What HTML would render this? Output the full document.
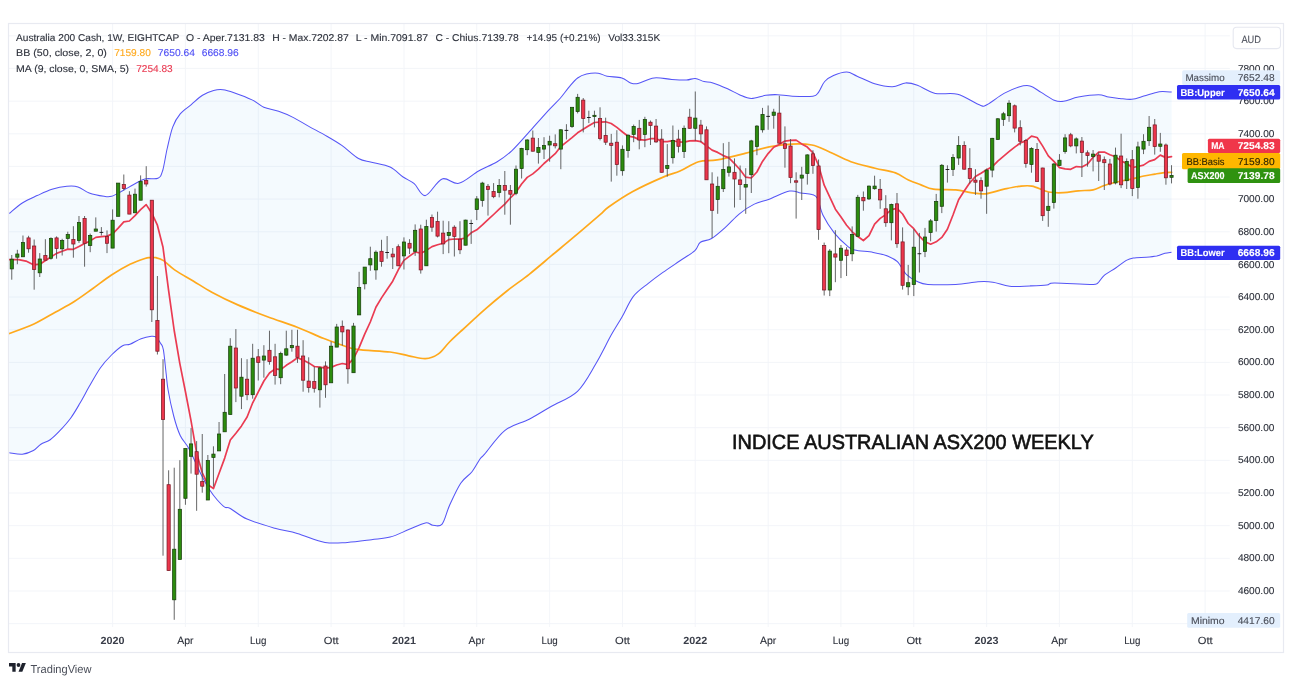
<!DOCTYPE html>
<html lang="it"><head><meta charset="utf-8"><title>Australia 200 Cash - TradingView</title>
<style>
html,body{margin:0;padding:0;background:#fff;}
body{width:1292px;height:684px;overflow:hidden;font-family:"Liberation Sans", sans-serif;}
svg{display:block;position:absolute;left:0;top:0;}
text{font-family:"Liberation Sans", sans-serif;font-size:9.9px;color:#2e323c;fill:currentColor;stroke:currentColor;stroke-width:0.12px;text-rendering:geometricPrecision;}
.b{font-weight:bold;}
.w{color:#fff;}
</style></head><body>
<svg width="1292" height="684" viewBox="0 0 1292 684">
<rect x="0" y="0" width="1292" height="684" fill="#fff"/>

<g stroke="#f2f4f8" stroke-width="0.9">
<line x1="9" y1="623.63" x2="1229.8" y2="623.63"/>
<line x1="9" y1="590.97" x2="1229.8" y2="590.97"/>
<line x1="9" y1="558.32" x2="1229.8" y2="558.32"/>
<line x1="9" y1="525.66" x2="1229.8" y2="525.66"/>
<line x1="9" y1="493.00" x2="1229.8" y2="493.00"/>
<line x1="9" y1="460.35" x2="1229.8" y2="460.35"/>
<line x1="9" y1="427.69" x2="1229.8" y2="427.69"/>
<line x1="9" y1="395.04" x2="1229.8" y2="395.04"/>
<line x1="9" y1="362.38" x2="1229.8" y2="362.38"/>
<line x1="9" y1="329.72" x2="1229.8" y2="329.72"/>
<line x1="9" y1="297.07" x2="1229.8" y2="297.07"/>
<line x1="9" y1="264.41" x2="1229.8" y2="264.41"/>
<line x1="9" y1="231.76" x2="1229.8" y2="231.76"/>
<line x1="9" y1="199.10" x2="1229.8" y2="199.10"/>
<line x1="9" y1="166.44" x2="1229.8" y2="166.44"/>
<line x1="9" y1="133.79" x2="1229.8" y2="133.79"/>
<line x1="9" y1="101.13" x2="1229.8" y2="101.13"/>
<line x1="9" y1="68.48" x2="1229.8" y2="68.48"/>
<line x1="9" y1="35.82" x2="1229.8" y2="35.82"/>
<line x1="112.60" y1="24" x2="112.60" y2="627"/>
<line x1="185.44" y1="24" x2="185.44" y2="627"/>
<line x1="258.27" y1="24" x2="258.27" y2="627"/>
<line x1="331.11" y1="24" x2="331.11" y2="627"/>
<line x1="403.95" y1="24" x2="403.95" y2="627"/>
<line x1="476.78" y1="24" x2="476.78" y2="627"/>
<line x1="549.62" y1="24" x2="549.62" y2="627"/>
<line x1="622.46" y1="24" x2="622.46" y2="627"/>
<line x1="695.29" y1="24" x2="695.29" y2="627"/>
<line x1="768.13" y1="24" x2="768.13" y2="627"/>
<line x1="840.96" y1="24" x2="840.96" y2="627"/>
<line x1="913.80" y1="24" x2="913.80" y2="627"/>
<line x1="986.64" y1="24" x2="986.64" y2="627"/>
<line x1="1059.47" y1="24" x2="1059.47" y2="627"/>
<line x1="1132.31" y1="24" x2="1132.31" y2="627"/>
<line x1="1205.15" y1="24" x2="1205.15" y2="627"/>
</g>
<path d="M9.3,213.5C11.5,211.8 17.6,206.0 22.3,203.0C27.0,200.0 32.2,197.9 37.2,195.6C42.2,193.3 47.0,190.9 52.0,189.3C57.0,187.8 62.6,186.7 66.9,186.3C71.2,185.9 74.3,185.8 78.0,186.9C81.7,188.0 84.9,191.4 89.2,193.0C93.5,194.6 100.3,195.8 104.0,196.3C107.7,196.9 108.4,197.2 111.5,196.3C114.6,195.4 118.9,192.8 122.6,190.8C126.3,188.8 130.0,186.5 133.7,184.5C137.4,182.5 140.9,179.9 144.9,178.9C148.9,177.9 154.9,179.7 157.9,178.3C160.9,176.9 161.1,175.5 162.7,170.5C164.2,165.5 165.5,155.8 167.2,148.5C168.9,141.2 170.6,132.7 172.8,126.9C175.0,121.1 177.1,117.6 180.2,113.9C183.3,110.2 187.6,107.7 191.3,104.6C195.0,101.5 198.8,97.6 202.5,95.3C206.2,93.0 210.2,91.4 213.6,90.5C217.0,89.6 219.5,89.3 222.9,89.7C226.3,90.1 229.1,91.0 234.0,92.7C238.9,94.4 247.6,97.7 252.6,100.1C257.6,102.5 259.5,105.3 263.8,107.2C268.1,109.1 273.7,109.6 278.6,111.3C283.6,113.0 288.5,115.1 293.5,117.6C298.5,120.1 302.8,123.0 308.4,126.1C314.0,129.2 321.3,133.0 326.9,136.2C332.5,139.4 336.5,141.7 341.8,145.4C347.1,149.1 353.6,155.7 358.5,158.5C363.4,161.3 366.2,160.8 371.5,162.2C376.8,163.6 384.8,164.5 390.1,167.0C395.4,169.5 399.1,174.2 403.1,177.0C407.1,179.8 410.5,180.6 414.2,183.7C417.9,186.8 420.8,196.4 425.4,195.6C430.0,194.8 436.5,180.9 442.1,178.9C447.7,176.9 452.7,184.6 458.8,183.3C464.9,182.0 472.2,174.6 478.6,171.0C485.0,167.4 491.6,165.1 497.2,161.7C502.8,158.3 506.1,156.2 512.0,150.6C517.9,145.0 526.2,135.1 532.4,128.3C538.6,121.5 544.6,114.7 549.2,109.7C553.8,104.7 556.7,102.2 560.0,98.5C563.3,94.8 565.9,90.8 568.8,87.4C571.7,84.0 574.6,80.2 577.6,78.0C580.6,75.8 583.1,74.9 586.5,74.1C589.9,73.3 594.8,72.8 598.2,73.2C601.6,73.6 603.2,75.4 607.1,76.2C611.0,77.0 617.9,76.8 621.8,77.9C625.7,79.0 627.9,82.0 630.6,82.9C633.3,83.8 634.0,84.3 637.9,83.5C641.8,82.7 648.5,78.6 654.1,77.9C659.8,77.2 666.4,79.1 671.8,79.4C677.2,79.8 682.6,80.2 686.5,80.0C690.4,79.8 692.4,78.2 695.3,78.5C698.2,78.8 701.2,80.8 704.1,81.5C707.0,82.2 709.0,81.7 712.9,82.9C716.8,84.1 723.2,86.8 727.6,88.8C732.0,90.8 735.5,93.1 739.4,94.7C743.3,96.3 746.8,98.4 751.2,98.5C755.6,98.6 761.5,95.9 765.9,95.3C770.3,94.7 773.2,94.5 777.6,94.7C782.0,94.9 786.5,96.0 792.4,96.2C798.3,96.5 808.5,96.9 812.9,96.2C817.3,95.5 816.8,94.2 818.8,91.8C820.8,89.3 822.2,84.2 824.7,81.5C827.2,78.8 829.8,77.2 833.5,75.6C837.2,74.0 842.9,72.0 846.8,72.1C850.7,72.2 852.5,74.2 857.1,76.2C861.8,78.2 868.8,82.0 874.7,83.8C880.6,85.6 887.2,86.9 892.4,86.8C897.5,86.7 901.4,83.2 905.6,82.9C909.8,82.7 912.5,83.5 917.4,85.3C922.3,87.0 928.6,91.9 935.3,93.4C942.0,94.9 950.2,92.3 957.6,94.3C965.0,96.2 975.0,103.4 979.9,105.1C984.8,106.8 983.3,106.5 987.3,104.5C991.3,102.5 998.7,96.3 1004.0,93.4C1009.3,90.5 1014.6,88.2 1018.9,86.9C1023.2,85.7 1026.3,85.0 1030.0,85.9C1033.7,86.8 1037.2,90.0 1041.2,92.4C1045.2,94.8 1050.5,98.7 1054.2,100.2C1057.9,101.7 1059.5,101.8 1063.5,101.3C1067.5,100.8 1072.5,98.2 1078.3,97.1C1084.1,96.0 1093.4,94.7 1098.4,94.7C1103.5,94.7 1105.0,96.5 1108.6,97.1C1112.1,97.7 1115.8,98.0 1119.7,98.4C1123.6,98.8 1127.8,99.7 1131.8,99.3C1135.8,98.9 1139.9,97.2 1143.8,96.1C1147.7,95.0 1151.9,93.6 1155.0,92.8C1158.1,92.0 1159.6,91.6 1162.4,91.5C1165.2,91.4 1170.2,92.0 1171.7,92.1L1171.5,252.2C1170.4,252.4 1167.4,252.7 1164.9,253.3C1162.4,253.9 1159.8,255.3 1156.7,256.0C1153.6,256.6 1150.1,256.9 1146.2,257.2C1142.3,257.5 1136.6,257.5 1133.3,258.0C1130.0,258.5 1129.2,258.7 1126.3,260.4C1123.4,262.1 1119.4,265.5 1115.7,268.0C1112.0,270.5 1107.0,273.1 1104.0,275.6C1101.0,278.1 1099.9,281.7 1097.6,283.2C1095.3,284.7 1097.2,284.4 1090.0,284.4C1082.8,284.4 1061.4,283.0 1054.2,283.1C1047.0,283.2 1050.8,284.5 1046.8,285.0C1042.8,285.5 1036.2,285.7 1030.0,285.9C1023.8,286.1 1015.8,286.9 1009.6,286.3C1003.4,285.7 998.2,282.9 992.9,282.2C987.6,281.4 984.2,281.4 978.0,281.8C971.8,282.2 964.1,284.0 955.7,284.4C947.4,284.8 934.4,284.9 927.9,284.4C921.4,283.9 920.2,282.8 916.7,281.2C913.2,279.6 909.8,277.9 906.6,274.7C903.4,271.4 900.5,264.8 897.4,261.7C894.3,258.6 892.1,257.8 888.1,256.2C884.1,254.6 878.8,253.4 873.2,252.4C867.6,251.4 858.9,251.1 854.6,250.0C850.3,248.9 850.6,248.8 847.2,245.9C843.8,243.1 838.2,238.0 834.2,232.9C830.2,227.8 825.8,221.0 823.0,215.3C820.2,209.6 819.4,202.1 817.5,198.6C815.6,195.1 814.7,195.4 811.9,194.5C809.1,193.6 804.5,193.6 800.8,193.0C797.1,192.4 794.9,190.1 789.6,191.1C784.3,192.1 775.1,197.0 769.2,199.2C763.3,201.4 759.3,201.7 754.3,204.1C749.3,206.5 744.0,210.1 739.4,213.8C734.8,217.5 731.0,222.3 726.4,226.4C721.8,230.5 715.9,235.9 711.6,238.5C707.3,241.1 703.2,240.2 700.4,242.2C697.6,244.2 698.3,247.5 694.9,250.6C691.5,253.7 685.3,257.2 680.0,260.8C674.7,264.4 668.2,268.6 662.9,272.4C657.6,276.2 653.0,279.6 648.0,283.6C643.0,287.6 637.5,291.0 633.2,296.6C628.9,302.2 625.7,310.5 622.0,317.0C618.3,323.5 615.2,327.9 610.9,335.6C606.6,343.4 601.6,354.2 596.0,363.5C590.4,372.8 584.9,384.2 577.5,391.3C570.1,398.4 559.5,401.6 551.5,406.2C543.5,410.8 537.0,415.2 529.2,419.2C521.5,423.2 512.4,424.5 505.0,430.3C497.6,436.1 488.8,449.3 484.6,454.1C480.4,458.9 482.1,456.0 480.0,459.0C477.9,462.0 475.0,468.0 471.8,472.0C468.6,476.0 464.4,477.6 460.7,483.2C457.0,488.8 452.6,498.7 449.5,505.5C446.4,512.3 444.9,520.8 442.1,524.1C439.3,527.4 435.6,525.4 432.8,525.2C430.0,525.0 429.4,522.2 425.4,522.9C421.4,523.6 414.6,527.2 408.7,529.6C402.8,532.0 396.3,535.4 390.1,537.1C383.9,538.8 378.6,538.8 371.5,539.7C364.4,540.6 355.1,542.0 347.4,542.4C339.6,542.8 333.4,543.9 325.0,542.4C316.6,540.9 305.6,535.8 297.2,533.4C288.8,531.0 283.3,530.6 274.9,528.2C266.5,525.8 254.4,522.4 247.0,519.1C239.6,515.8 234.0,510.5 230.3,508.5C226.6,506.5 226.9,508.5 224.7,507.1C222.5,505.7 219.8,502.8 217.3,500.0C214.8,497.2 212.7,494.7 209.9,490.3C207.1,485.9 204.0,480.4 200.6,473.6C197.2,466.8 192.8,455.8 189.4,449.4C186.0,443.0 182.8,441.1 180.2,435.5C177.6,429.9 175.7,423.6 173.7,416.0C171.7,408.4 169.3,397.0 168.1,390.0C166.8,383.0 167.0,380.7 166.2,374.0C165.4,367.3 164.3,355.0 163.4,349.9C162.5,344.8 161.9,345.5 160.7,343.4C159.5,341.3 157.6,338.4 156.0,337.2C154.4,336.0 153.9,336.1 151.4,336.3C148.9,336.6 144.7,337.4 141.1,338.7C137.5,340.0 133.1,343.1 130.0,344.3C126.9,345.5 125.7,343.9 122.6,345.7C119.5,347.5 115.2,351.3 111.5,355.0C107.8,358.7 104.0,362.7 100.3,368.0C96.6,373.3 92.6,380.7 89.2,386.6C85.8,392.5 83.0,398.0 79.9,403.3C76.8,408.6 74.0,413.6 70.6,418.2C67.2,422.8 62.8,427.6 59.4,431.2C56.0,434.8 53.3,437.5 50.2,439.7C47.1,441.9 43.7,442.4 40.9,444.2C38.1,446.0 36.5,448.8 33.4,450.5C30.3,452.2 26.3,453.8 22.3,454.2C18.3,454.6 11.5,452.9 9.3,452.7Z" fill="#2196f3" fill-opacity="0.05"/>
<path d="M9.3,213.5C11.5,211.8 17.6,206.0 22.3,203.0C27.0,200.0 32.2,197.9 37.2,195.6C42.2,193.3 47.0,190.9 52.0,189.3C57.0,187.8 62.6,186.7 66.9,186.3C71.2,185.9 74.3,185.8 78.0,186.9C81.7,188.0 84.9,191.4 89.2,193.0C93.5,194.6 100.3,195.8 104.0,196.3C107.7,196.9 108.4,197.2 111.5,196.3C114.6,195.4 118.9,192.8 122.6,190.8C126.3,188.8 130.0,186.5 133.7,184.5C137.4,182.5 140.9,179.9 144.9,178.9C148.9,177.9 154.9,179.7 157.9,178.3C160.9,176.9 161.1,175.5 162.7,170.5C164.2,165.5 165.5,155.8 167.2,148.5C168.9,141.2 170.6,132.7 172.8,126.9C175.0,121.1 177.1,117.6 180.2,113.9C183.3,110.2 187.6,107.7 191.3,104.6C195.0,101.5 198.8,97.6 202.5,95.3C206.2,93.0 210.2,91.4 213.6,90.5C217.0,89.6 219.5,89.3 222.9,89.7C226.3,90.1 229.1,91.0 234.0,92.7C238.9,94.4 247.6,97.7 252.6,100.1C257.6,102.5 259.5,105.3 263.8,107.2C268.1,109.1 273.7,109.6 278.6,111.3C283.6,113.0 288.5,115.1 293.5,117.6C298.5,120.1 302.8,123.0 308.4,126.1C314.0,129.2 321.3,133.0 326.9,136.2C332.5,139.4 336.5,141.7 341.8,145.4C347.1,149.1 353.6,155.7 358.5,158.5C363.4,161.3 366.2,160.8 371.5,162.2C376.8,163.6 384.8,164.5 390.1,167.0C395.4,169.5 399.1,174.2 403.1,177.0C407.1,179.8 410.5,180.6 414.2,183.7C417.9,186.8 420.8,196.4 425.4,195.6C430.0,194.8 436.5,180.9 442.1,178.9C447.7,176.9 452.7,184.6 458.8,183.3C464.9,182.0 472.2,174.6 478.6,171.0C485.0,167.4 491.6,165.1 497.2,161.7C502.8,158.3 506.1,156.2 512.0,150.6C517.9,145.0 526.2,135.1 532.4,128.3C538.6,121.5 544.6,114.7 549.2,109.7C553.8,104.7 556.7,102.2 560.0,98.5C563.3,94.8 565.9,90.8 568.8,87.4C571.7,84.0 574.6,80.2 577.6,78.0C580.6,75.8 583.1,74.9 586.5,74.1C589.9,73.3 594.8,72.8 598.2,73.2C601.6,73.6 603.2,75.4 607.1,76.2C611.0,77.0 617.9,76.8 621.8,77.9C625.7,79.0 627.9,82.0 630.6,82.9C633.3,83.8 634.0,84.3 637.9,83.5C641.8,82.7 648.5,78.6 654.1,77.9C659.8,77.2 666.4,79.1 671.8,79.4C677.2,79.8 682.6,80.2 686.5,80.0C690.4,79.8 692.4,78.2 695.3,78.5C698.2,78.8 701.2,80.8 704.1,81.5C707.0,82.2 709.0,81.7 712.9,82.9C716.8,84.1 723.2,86.8 727.6,88.8C732.0,90.8 735.5,93.1 739.4,94.7C743.3,96.3 746.8,98.4 751.2,98.5C755.6,98.6 761.5,95.9 765.9,95.3C770.3,94.7 773.2,94.5 777.6,94.7C782.0,94.9 786.5,96.0 792.4,96.2C798.3,96.5 808.5,96.9 812.9,96.2C817.3,95.5 816.8,94.2 818.8,91.8C820.8,89.3 822.2,84.2 824.7,81.5C827.2,78.8 829.8,77.2 833.5,75.6C837.2,74.0 842.9,72.0 846.8,72.1C850.7,72.2 852.5,74.2 857.1,76.2C861.8,78.2 868.8,82.0 874.7,83.8C880.6,85.6 887.2,86.9 892.4,86.8C897.5,86.7 901.4,83.2 905.6,82.9C909.8,82.7 912.5,83.5 917.4,85.3C922.3,87.0 928.6,91.9 935.3,93.4C942.0,94.9 950.2,92.3 957.6,94.3C965.0,96.2 975.0,103.4 979.9,105.1C984.8,106.8 983.3,106.5 987.3,104.5C991.3,102.5 998.7,96.3 1004.0,93.4C1009.3,90.5 1014.6,88.2 1018.9,86.9C1023.2,85.7 1026.3,85.0 1030.0,85.9C1033.7,86.8 1037.2,90.0 1041.2,92.4C1045.2,94.8 1050.5,98.7 1054.2,100.2C1057.9,101.7 1059.5,101.8 1063.5,101.3C1067.5,100.8 1072.5,98.2 1078.3,97.1C1084.1,96.0 1093.4,94.7 1098.4,94.7C1103.5,94.7 1105.0,96.5 1108.6,97.1C1112.1,97.7 1115.8,98.0 1119.7,98.4C1123.6,98.8 1127.8,99.7 1131.8,99.3C1135.8,98.9 1139.9,97.2 1143.8,96.1C1147.7,95.0 1151.9,93.6 1155.0,92.8C1158.1,92.0 1159.6,91.6 1162.4,91.5C1165.2,91.4 1170.2,92.0 1171.7,92.1" fill="none" stroke="#5555f6" stroke-width="1.05" stroke-linejoin="round"/>
<path d="M9.3,452.7C11.5,452.9 18.3,454.6 22.3,454.2C26.3,453.8 30.3,452.2 33.4,450.5C36.5,448.8 38.1,446.0 40.9,444.2C43.7,442.4 47.1,441.9 50.2,439.7C53.3,437.5 56.0,434.8 59.4,431.2C62.8,427.6 67.2,422.8 70.6,418.2C74.0,413.6 76.8,408.6 79.9,403.3C83.0,398.0 85.8,392.5 89.2,386.6C92.6,380.7 96.6,373.3 100.3,368.0C104.0,362.7 107.8,358.7 111.5,355.0C115.2,351.3 119.5,347.5 122.6,345.7C125.7,343.9 126.9,345.5 130.0,344.3C133.1,343.1 137.5,340.0 141.1,338.7C144.7,337.4 148.9,336.6 151.4,336.3C153.9,336.1 154.4,336.0 156.0,337.2C157.6,338.4 159.5,341.3 160.7,343.4C161.9,345.5 162.5,344.8 163.4,349.9C164.3,355.0 165.4,367.3 166.2,374.0C167.0,380.7 166.8,383.0 168.1,390.0C169.3,397.0 171.7,408.4 173.7,416.0C175.7,423.6 177.6,429.9 180.2,435.5C182.8,441.1 186.0,443.0 189.4,449.4C192.8,455.8 197.2,466.8 200.6,473.6C204.0,480.4 207.1,485.9 209.9,490.3C212.7,494.7 214.8,497.2 217.3,500.0C219.8,502.8 222.5,505.7 224.7,507.1C226.9,508.5 226.6,506.5 230.3,508.5C234.0,510.5 239.6,515.8 247.0,519.1C254.4,522.4 266.5,525.8 274.9,528.2C283.3,530.6 288.8,531.0 297.2,533.4C305.6,535.8 316.6,540.9 325.0,542.4C333.4,543.9 339.6,542.8 347.4,542.4C355.1,542.0 364.4,540.6 371.5,539.7C378.6,538.8 383.9,538.8 390.1,537.1C396.3,535.4 402.8,532.0 408.7,529.6C414.6,527.2 421.4,523.6 425.4,522.9C429.4,522.2 430.0,525.0 432.8,525.2C435.6,525.4 439.3,527.4 442.1,524.1C444.9,520.8 446.4,512.3 449.5,505.5C452.6,498.7 457.0,488.8 460.7,483.2C464.4,477.6 468.6,476.0 471.8,472.0C475.0,468.0 477.9,462.0 480.0,459.0C482.1,456.0 480.4,458.9 484.6,454.1C488.8,449.3 497.6,436.1 505.0,430.3C512.4,424.5 521.5,423.2 529.2,419.2C537.0,415.2 543.5,410.8 551.5,406.2C559.5,401.6 570.1,398.4 577.5,391.3C584.9,384.2 590.4,372.8 596.0,363.5C601.6,354.2 606.6,343.4 610.9,335.6C615.2,327.9 618.3,323.5 622.0,317.0C625.7,310.5 628.9,302.2 633.2,296.6C637.5,291.0 643.0,287.6 648.0,283.6C653.0,279.6 657.6,276.2 662.9,272.4C668.2,268.6 674.7,264.4 680.0,260.8C685.3,257.2 691.5,253.7 694.9,250.6C698.3,247.5 697.6,244.2 700.4,242.2C703.2,240.2 707.3,241.1 711.6,238.5C715.9,235.9 721.8,230.5 726.4,226.4C731.0,222.3 734.8,217.5 739.4,213.8C744.0,210.1 749.3,206.5 754.3,204.1C759.3,201.7 763.3,201.4 769.2,199.2C775.1,197.0 784.3,192.1 789.6,191.1C794.9,190.1 797.1,192.4 800.8,193.0C804.5,193.6 809.1,193.6 811.9,194.5C814.7,195.4 815.6,195.1 817.5,198.6C819.4,202.1 820.2,209.6 823.0,215.3C825.8,221.0 830.2,227.8 834.2,232.9C838.2,238.0 843.8,243.1 847.2,245.9C850.6,248.8 850.3,248.9 854.6,250.0C858.9,251.1 867.6,251.4 873.2,252.4C878.8,253.4 884.1,254.6 888.1,256.2C892.1,257.8 894.3,258.6 897.4,261.7C900.5,264.8 903.4,271.4 906.6,274.7C909.8,277.9 913.2,279.6 916.7,281.2C920.2,282.8 921.4,283.9 927.9,284.4C934.4,284.9 947.4,284.8 955.7,284.4C964.1,284.0 971.8,282.2 978.0,281.8C984.2,281.4 987.6,281.4 992.9,282.2C998.2,282.9 1003.4,285.7 1009.6,286.3C1015.8,286.9 1023.8,286.1 1030.0,285.9C1036.2,285.7 1042.8,285.5 1046.8,285.0C1050.8,284.5 1047.0,283.2 1054.2,283.1C1061.4,283.0 1082.8,284.4 1090.0,284.4C1097.2,284.4 1095.3,284.7 1097.6,283.2C1099.9,281.7 1101.0,278.1 1104.0,275.6C1107.0,273.1 1112.0,270.5 1115.7,268.0C1119.4,265.5 1123.4,262.1 1126.3,260.4C1129.2,258.7 1130.0,258.5 1133.3,258.0C1136.6,257.5 1142.3,257.5 1146.2,257.2C1150.1,256.9 1153.6,256.6 1156.7,256.0C1159.8,255.3 1162.4,253.9 1164.9,253.3C1167.4,252.7 1170.4,252.4 1171.5,252.2" fill="none" stroke="#5555f6" stroke-width="1.05" stroke-linejoin="round"/>
<path d="M9.3,333.5C13.3,332.0 25.7,327.9 33.4,324.3C41.1,320.7 48.9,315.8 55.7,312.0C62.5,308.2 68.1,305.4 74.3,301.5C80.5,297.6 86.7,292.9 92.9,288.5C99.1,284.1 105.3,279.0 111.5,275.0C117.7,271.0 124.4,267.1 130.0,264.3C135.6,261.6 141.6,259.6 144.9,258.5C148.2,257.4 148.2,257.8 150.0,257.7C151.8,257.6 153.8,257.2 156.0,257.7C158.2,258.2 160.4,258.6 163.5,260.6C166.6,262.6 169.7,266.5 174.6,269.9C179.5,273.3 187.0,277.3 193.2,281.0C199.4,284.7 204.4,288.2 211.8,292.2C219.2,296.2 228.5,300.8 237.8,304.9C247.1,309.0 257.6,313.0 267.5,316.7C277.4,320.4 287.9,323.6 297.2,327.2C306.5,330.8 315.8,335.3 323.2,338.3C330.6,341.3 336.2,343.1 341.8,345.0C347.4,346.9 348.6,348.2 356.7,349.4C364.8,350.6 381.4,350.9 390.1,352.0C398.8,353.1 402.8,354.7 408.7,355.8C414.6,356.9 420.4,359.0 425.4,358.7C430.3,358.4 434.4,356.7 438.4,353.9C442.4,351.1 445.5,346.0 449.5,342.0C453.5,338.0 456.4,335.4 462.3,330.0C468.2,324.6 477.2,316.1 484.6,309.6C492.0,303.1 499.5,296.9 506.9,291.0C514.3,285.1 521.8,280.2 529.2,274.3C536.6,268.4 544.1,261.9 551.5,255.7C558.9,249.5 565.7,244.0 573.7,237.2C581.8,230.4 594.0,219.9 599.8,214.9C605.6,209.9 603.1,210.9 608.6,207.0C614.1,203.1 623.5,196.6 632.8,191.5C642.1,186.4 656.4,180.0 664.3,176.6C672.2,173.2 674.3,173.5 680.0,171.0C685.7,168.5 692.4,163.5 698.6,161.7C704.8,159.8 709.5,161.3 717.2,159.9C724.9,158.5 736.3,155.6 745.0,153.4C753.7,151.2 761.5,148.5 769.2,146.9C777.0,145.3 784.4,144.4 791.5,144.1C798.6,143.8 805.7,143.8 811.9,145.0C818.1,146.2 822.1,148.7 828.6,151.5C835.1,154.3 843.1,158.9 850.9,161.7C858.6,164.5 867.7,166.3 875.1,168.2C882.5,170.1 890.0,170.9 895.5,172.9C901.0,174.9 904.2,178.1 908.4,180.0C912.5,181.9 916.2,183.1 920.4,184.6C924.6,186.1 927.5,188.3 933.4,189.2C939.3,190.1 949.5,189.3 955.7,189.9C961.9,190.5 965.6,191.9 970.6,192.6C975.6,193.2 979.9,194.4 985.5,193.8C991.1,193.2 998.4,190.4 1004.0,189.2C1009.6,188.0 1014.2,186.9 1018.9,186.4C1023.5,185.9 1027.0,185.2 1031.9,186.1C1036.9,187.0 1043.3,190.9 1048.6,192.0C1053.9,193.1 1058.5,192.9 1063.5,192.7C1068.5,192.5 1073.3,191.3 1078.3,190.8C1083.2,190.3 1088.9,190.7 1093.2,189.8C1097.5,188.9 1100.0,186.9 1104.3,185.5C1108.6,184.1 1114.5,182.6 1119.2,181.5C1123.9,180.4 1128.6,179.7 1132.7,178.8C1136.8,177.9 1140.1,176.8 1143.8,176.0C1147.5,175.2 1151.6,174.7 1155.0,174.1C1158.4,173.5 1161.5,172.9 1164.3,172.6C1167.1,172.3 1170.5,172.4 1171.7,172.3" fill="none" stroke="#ffa91c" stroke-width="1.7" stroke-linejoin="round" stroke-linecap="round"/>
<polyline points="9.3,259.6 18.6,259.6 26.0,261.1 33.4,264.8 39.9,264.2 45.5,260.5 56.6,253.4 62.2,251.3 67.8,249.1 73.4,249.3 79.0,246.4 84.6,243.5 90.2,240.9 95.8,237.4 101.4,236.7 107.0,236.1 112.6,233.8 118.2,228.1 123.8,221.9 129.4,221.0 135.0,215.6 140.6,209.6 146.2,204.6 151.8,213.2 157.4,225.2 163.0,247.3 168.6,290.4 174.2,330.5 179.8,363.3 185.4,391.5 191.0,420.7 196.6,452.9 202.2,472.5 207.8,484.7 213.5,488.5 219.1,473.3 224.7,458.1 230.3,440.0 235.9,433.3 241.5,425.9 247.1,417.0 252.7,402.8 258.3,391.9 263.9,381.0 269.5,373.0 275.1,368.9 280.7,369.7 286.3,365.3 291.9,361.8 297.5,357.7 303.1,360.1 308.7,362.9 314.3,366.5 319.9,367.2 325.5,368.2 331.1,367.4 336.7,365.0 342.3,363.5 347.9,364.7 353.5,358.7 359.1,347.6 364.7,334.1 370.3,322.0 375.9,307.3 381.5,297.9 387.1,289.5 392.7,281.2 398.3,269.8 403.9,260.4 409.5,256.1 415.2,252.0 420.8,253.2 426.4,250.4 432.0,246.6 437.6,244.8 443.2,243.3 448.8,239.6 454.4,239.0 460.0,239.2 465.6,238.0 471.2,232.8 476.8,229.8 482.4,224.9 488.0,219.7 493.6,214.5 499.2,209.2 504.8,204.1 510.4,197.9 516.0,192.3 521.6,184.0 527.2,177.4 532.8,173.9 538.4,169.2 544.0,163.5 549.6,158.6 555.2,153.7 560.8,146.5 566.4,142.1 572.0,137.6 577.6,132.8 583.2,129.2 588.8,125.8 594.4,122.5 600.0,122.2 605.6,121.8 611.2,123.5 616.9,127.4 622.5,132.0 628.1,136.2 633.7,137.1 639.3,139.6 644.9,140.1 650.5,138.7 656.1,138.6 661.7,141.6 667.3,141.7 672.9,140.7 678.5,142.0 684.1,142.2 689.7,140.9 695.3,140.7 700.9,141.7 706.5,145.9 712.1,150.1 717.7,152.4 723.3,155.6 728.9,157.9 734.5,163.6 740.1,169.8 745.7,177.2 751.3,178.0 756.9,172.0 762.5,161.4 768.1,153.6 773.7,147.2 779.3,144.5 784.9,141.1 790.5,140.4 796.1,140.1 801.7,143.9 807.3,147.1 813.0,152.8 818.6,165.4 824.2,185.2 829.8,197.1 835.4,209.2 841.0,217.1 846.6,225.2 852.2,231.8 857.8,236.5 863.4,240.5 869.0,235.6 874.6,224.1 880.2,218.4 885.8,214.6 891.4,209.7 897.0,208.4 902.6,214.0 908.2,223.5 913.8,228.7 919.4,236.2 925.0,241.8 930.6,244.2 936.2,241.8 941.8,237.4 947.4,229.2 953.0,215.0 958.6,199.7 964.2,191.0 969.8,182.7 975.4,176.6 981.0,173.3 986.6,169.8 992.2,166.8 997.8,161.2 1003.4,156.3 1009.0,151.7 1014.7,147.1 1020.3,143.0 1025.9,140.9 1031.5,136.2 1037.1,137.5 1042.7,146.1 1048.3,155.8 1053.9,161.4 1059.5,167.7 1065.1,168.8 1070.7,169.3 1076.3,166.6 1081.9,167.0 1087.5,164.1 1093.1,157.3 1098.7,152.2 1104.3,152.1 1109.9,154.7 1115.5,156.7 1121.1,161.0 1126.7,163.5 1132.3,167.5 1137.9,166.5 1143.5,165.1 1149.1,161.4 1154.7,159.6 1160.3,155.1 1165.9,157.6 1171.5,156.6" fill="none" stroke="#ea3b52" stroke-width="1.7" stroke-linejoin="round" stroke-linecap="round"/>
<g>
<line x1="11.75" y1="255.0" x2="11.75" y2="279.7" stroke="#4a4a4a" stroke-width="0.85"/>
<rect x="10.15" y="259.2" width="3.2" height="9.7" fill="#2c8c0e" stroke="#173f0a" stroke-width="0.75"/>
<line x1="17.35" y1="249.8" x2="17.35" y2="264.2" stroke="#4a4a4a" stroke-width="0.85"/>
<rect x="15.75" y="254.0" width="3.2" height="3.2" fill="#2c8c0e" stroke="#173f0a" stroke-width="0.75"/>
<line x1="22.96" y1="235.5" x2="22.96" y2="256.8" stroke="#4a4a4a" stroke-width="0.85"/>
<rect x="21.36" y="242.5" width="3.2" height="14.3" fill="#2c8c0e" stroke="#173f0a" stroke-width="0.75"/>
<line x1="28.56" y1="235.8" x2="28.56" y2="252.7" stroke="#4a4a4a" stroke-width="0.85"/>
<rect x="26.96" y="237.9" width="3.2" height="10.9" fill="#ec364c" stroke="#7a1a26" stroke-width="0.75"/>
<line x1="34.16" y1="239.5" x2="34.16" y2="289.7" stroke="#4a4a4a" stroke-width="0.85"/>
<rect x="32.56" y="246.0" width="3.2" height="23.5" fill="#ec364c" stroke="#7a1a26" stroke-width="0.75"/>
<line x1="39.76" y1="253.1" x2="39.76" y2="277.0" stroke="#4a4a4a" stroke-width="0.85"/>
<rect x="38.16" y="259.0" width="3.2" height="13.8" fill="#2c8c0e" stroke="#173f0a" stroke-width="0.75"/>
<line x1="45.37" y1="239.2" x2="45.37" y2="260.2" stroke="#4a4a4a" stroke-width="0.85"/>
<rect x="43.77" y="255.5" width="3.2" height="4.7" fill="#ec364c" stroke="#7a1a26" stroke-width="0.75"/>
<line x1="50.97" y1="237.3" x2="50.97" y2="259.6" stroke="#4a4a4a" stroke-width="0.85"/>
<rect x="49.37" y="238.6" width="3.2" height="19.7" fill="#2c8c0e" stroke="#173f0a" stroke-width="0.75"/>
<line x1="56.57" y1="236.4" x2="56.57" y2="258.7" stroke="#4a4a4a" stroke-width="0.85"/>
<rect x="54.97" y="237.9" width="3.2" height="10.7" fill="#ec364c" stroke="#7a1a26" stroke-width="0.75"/>
<line x1="62.18" y1="238.8" x2="62.18" y2="255.5" stroke="#4a4a4a" stroke-width="0.85"/>
<rect x="60.58" y="240.5" width="3.2" height="8.3" fill="#2c8c0e" stroke="#173f0a" stroke-width="0.75"/>
<line x1="67.78" y1="231.7" x2="67.78" y2="248.5" stroke="#4a4a4a" stroke-width="0.85"/>
<rect x="66.18" y="234.5" width="3.2" height="3.9" fill="#2c8c0e" stroke="#173f0a" stroke-width="0.75"/>
<line x1="73.38" y1="226.2" x2="73.38" y2="257.7" stroke="#4a4a4a" stroke-width="0.85"/>
<rect x="71.78" y="239.5" width="3.2" height="4.5" fill="#ec364c" stroke="#7a1a26" stroke-width="0.75"/>
<line x1="78.98" y1="216.0" x2="78.98" y2="242.9" stroke="#4a4a4a" stroke-width="0.85"/>
<rect x="77.38" y="222.5" width="3.2" height="18.0" fill="#2c8c0e" stroke="#173f0a" stroke-width="0.75"/>
<line x1="84.59" y1="216.0" x2="84.59" y2="266.7" stroke="#4a4a4a" stroke-width="0.85"/>
<rect x="82.99" y="218.4" width="3.2" height="24.9" fill="#ec364c" stroke="#7a1a26" stroke-width="0.75"/>
<line x1="90.19" y1="233.6" x2="90.19" y2="252.2" stroke="#4a4a4a" stroke-width="0.85"/>
<rect x="88.59" y="235.5" width="3.2" height="10.0" fill="#2c8c0e" stroke="#173f0a" stroke-width="0.75"/>
<line x1="95.79" y1="217.4" x2="95.79" y2="231.2" stroke="#4a4a4a" stroke-width="0.85"/>
<rect x="94.19" y="229.0" width="3.2" height="2.2" fill="#2c8c0e" stroke="#173f0a" stroke-width="0.75"/>
<line x1="101.39" y1="227.1" x2="101.39" y2="235.5" stroke="#4a4a4a" stroke-width="0.85"/>
<rect x="99.49" y="231.9" width="3.8" height="0.9" fill="#111"/>
<line x1="107.00" y1="230.4" x2="107.00" y2="253.1" stroke="#4a4a4a" stroke-width="0.85"/>
<rect x="105.40" y="236.4" width="3.2" height="6.9" fill="#ec364c" stroke="#7a1a26" stroke-width="0.75"/>
<line x1="112.60" y1="209.4" x2="112.60" y2="248.1" stroke="#4a4a4a" stroke-width="0.85"/>
<rect x="111.00" y="220.2" width="3.2" height="27.9" fill="#2c8c0e" stroke="#173f0a" stroke-width="0.75"/>
<line x1="118.20" y1="183.1" x2="118.20" y2="216.3" stroke="#4a4a4a" stroke-width="0.85"/>
<rect x="116.60" y="183.1" width="3.2" height="33.2" fill="#2c8c0e" stroke="#173f0a" stroke-width="0.75"/>
<line x1="123.81" y1="174.5" x2="123.81" y2="190.5" stroke="#4a4a4a" stroke-width="0.85"/>
<rect x="122.21" y="184.6" width="3.2" height="4.0" fill="#ec364c" stroke="#7a1a26" stroke-width="0.75"/>
<line x1="129.41" y1="191.2" x2="129.41" y2="214.1" stroke="#4a4a4a" stroke-width="0.85"/>
<rect x="127.81" y="195.1" width="3.2" height="19.0" fill="#ec364c" stroke="#7a1a26" stroke-width="0.75"/>
<line x1="135.01" y1="188.6" x2="135.01" y2="212.8" stroke="#4a4a4a" stroke-width="0.85"/>
<rect x="133.41" y="194.2" width="3.2" height="18.6" fill="#2c8c0e" stroke="#173f0a" stroke-width="0.75"/>
<line x1="140.61" y1="175.4" x2="140.61" y2="200.2" stroke="#4a4a4a" stroke-width="0.85"/>
<rect x="139.01" y="181.6" width="3.2" height="18.6" fill="#2c8c0e" stroke="#173f0a" stroke-width="0.75"/>
<line x1="146.22" y1="166.2" x2="146.22" y2="186.6" stroke="#4a4a4a" stroke-width="0.85"/>
<rect x="144.62" y="180.6" width="3.2" height="3.4" fill="#ec364c" stroke="#7a1a26" stroke-width="0.75"/>
<line x1="151.82" y1="200.2" x2="151.82" y2="322.0" stroke="#4a4a4a" stroke-width="0.85"/>
<rect x="150.22" y="200.2" width="3.2" height="109.6" fill="#ec364c" stroke="#7a1a26" stroke-width="0.75"/>
<line x1="157.42" y1="276.0" x2="157.42" y2="354.5" stroke="#4a4a4a" stroke-width="0.85"/>
<rect x="155.82" y="320.6" width="3.2" height="30.6" fill="#ec364c" stroke="#7a1a26" stroke-width="0.75"/>
<line x1="163.03" y1="359.2" x2="163.03" y2="555.7" stroke="#4a4a4a" stroke-width="0.85"/>
<rect x="161.43" y="379.2" width="3.2" height="40.2" fill="#ec364c" stroke="#7a1a26" stroke-width="0.75"/>
<line x1="168.63" y1="470.3" x2="168.63" y2="570.6" stroke="#4a4a4a" stroke-width="0.85"/>
<rect x="167.03" y="484.7" width="3.2" height="85.9" fill="#ec364c" stroke="#7a1a26" stroke-width="0.75"/>
<line x1="174.23" y1="467.7" x2="174.23" y2="619.8" stroke="#4a4a4a" stroke-width="0.85"/>
<rect x="172.63" y="549.2" width="3.2" height="50.6" fill="#2c8c0e" stroke="#173f0a" stroke-width="0.75"/>
<line x1="179.83" y1="460.2" x2="179.83" y2="559.4" stroke="#4a4a4a" stroke-width="0.85"/>
<rect x="178.23" y="509.3" width="3.2" height="50.1" fill="#2c8c0e" stroke="#173f0a" stroke-width="0.75"/>
<line x1="185.44" y1="448.5" x2="185.44" y2="504.8" stroke="#4a4a4a" stroke-width="0.85"/>
<rect x="183.84" y="448.5" width="3.2" height="49.8" fill="#2c8c0e" stroke="#173f0a" stroke-width="0.75"/>
<line x1="191.04" y1="428.1" x2="191.04" y2="473.6" stroke="#4a4a4a" stroke-width="0.85"/>
<rect x="189.44" y="443.9" width="3.2" height="12.4" fill="#2c8c0e" stroke="#173f0a" stroke-width="0.75"/>
<line x1="196.64" y1="441.1" x2="196.64" y2="510.8" stroke="#4a4a4a" stroke-width="0.85"/>
<rect x="195.04" y="451.7" width="3.2" height="22.5" fill="#ec364c" stroke="#7a1a26" stroke-width="0.75"/>
<line x1="202.25" y1="434.0" x2="202.25" y2="492.7" stroke="#4a4a4a" stroke-width="0.85"/>
<rect x="200.65" y="481.6" width="3.2" height="4.6" fill="#ec364c" stroke="#7a1a26" stroke-width="0.75"/>
<line x1="207.85" y1="455.0" x2="207.85" y2="500.0" stroke="#4a4a4a" stroke-width="0.85"/>
<rect x="206.25" y="460.6" width="3.2" height="39.4" fill="#2c8c0e" stroke="#173f0a" stroke-width="0.75"/>
<line x1="213.45" y1="446.3" x2="213.45" y2="486.6" stroke="#4a4a4a" stroke-width="0.85"/>
<rect x="211.85" y="454.1" width="3.2" height="3.3" fill="#2c8c0e" stroke="#173f0a" stroke-width="0.75"/>
<line x1="219.05" y1="422.0" x2="219.05" y2="450.9" stroke="#4a4a4a" stroke-width="0.85"/>
<rect x="217.45" y="434.0" width="3.2" height="16.9" fill="#2c8c0e" stroke="#173f0a" stroke-width="0.75"/>
<line x1="224.66" y1="374.0" x2="224.66" y2="431.8" stroke="#4a4a4a" stroke-width="0.85"/>
<rect x="223.06" y="412.3" width="3.2" height="19.5" fill="#2c8c0e" stroke="#173f0a" stroke-width="0.75"/>
<line x1="230.26" y1="338.2" x2="230.26" y2="414.5" stroke="#4a4a4a" stroke-width="0.85"/>
<rect x="228.66" y="346.2" width="3.2" height="68.3" fill="#2c8c0e" stroke="#173f0a" stroke-width="0.75"/>
<line x1="235.86" y1="329.1" x2="235.86" y2="402.1" stroke="#4a4a4a" stroke-width="0.85"/>
<rect x="234.26" y="348.0" width="3.2" height="40.0" fill="#ec364c" stroke="#7a1a26" stroke-width="0.75"/>
<line x1="241.46" y1="358.2" x2="241.46" y2="409.1" stroke="#4a4a4a" stroke-width="0.85"/>
<rect x="239.86" y="377.2" width="3.2" height="19.0" fill="#2c8c0e" stroke="#173f0a" stroke-width="0.75"/>
<line x1="247.07" y1="359.2" x2="247.07" y2="400.2" stroke="#4a4a4a" stroke-width="0.85"/>
<rect x="245.47" y="379.2" width="3.2" height="15.5" fill="#ec364c" stroke="#7a1a26" stroke-width="0.75"/>
<line x1="252.67" y1="343.8" x2="252.67" y2="398.7" stroke="#4a4a4a" stroke-width="0.85"/>
<rect x="251.07" y="358.2" width="3.2" height="36.5" fill="#2c8c0e" stroke="#173f0a" stroke-width="0.75"/>
<line x1="258.27" y1="349.0" x2="258.27" y2="380.5" stroke="#4a4a4a" stroke-width="0.85"/>
<rect x="256.67" y="356.8" width="3.2" height="5.7" fill="#ec364c" stroke="#7a1a26" stroke-width="0.75"/>
<line x1="263.88" y1="345.2" x2="263.88" y2="377.7" stroke="#4a4a4a" stroke-width="0.85"/>
<rect x="262.28" y="356.0" width="3.2" height="4.1" fill="#2c8c0e" stroke="#173f0a" stroke-width="0.75"/>
<line x1="269.48" y1="330.7" x2="269.48" y2="364.7" stroke="#4a4a4a" stroke-width="0.85"/>
<rect x="267.88" y="350.3" width="3.2" height="11.3" fill="#ec364c" stroke="#7a1a26" stroke-width="0.75"/>
<line x1="275.08" y1="343.8" x2="275.08" y2="384.6" stroke="#4a4a4a" stroke-width="0.85"/>
<rect x="273.48" y="356.8" width="3.2" height="18.7" fill="#ec364c" stroke="#7a1a26" stroke-width="0.75"/>
<line x1="280.68" y1="351.7" x2="280.68" y2="384.2" stroke="#4a4a4a" stroke-width="0.85"/>
<rect x="279.08" y="353.6" width="3.2" height="24.1" fill="#2c8c0e" stroke="#173f0a" stroke-width="0.75"/>
<line x1="286.29" y1="330.7" x2="286.29" y2="355.8" stroke="#4a4a4a" stroke-width="0.85"/>
<rect x="284.69" y="348.8" width="3.2" height="6.3" fill="#2c8c0e" stroke="#173f0a" stroke-width="0.75"/>
<line x1="291.89" y1="329.8" x2="291.89" y2="351.7" stroke="#4a4a4a" stroke-width="0.85"/>
<rect x="290.29" y="345.4" width="3.2" height="2.3" fill="#2c8c0e" stroke="#173f0a" stroke-width="0.75"/>
<line x1="297.49" y1="329.8" x2="297.49" y2="362.9" stroke="#4a4a4a" stroke-width="0.85"/>
<rect x="295.89" y="346.2" width="3.2" height="11.1" fill="#ec364c" stroke="#7a1a26" stroke-width="0.75"/>
<line x1="303.10" y1="340.2" x2="303.10" y2="391.7" stroke="#4a4a4a" stroke-width="0.85"/>
<rect x="301.50" y="356.0" width="3.2" height="24.2" fill="#ec364c" stroke="#7a1a26" stroke-width="0.75"/>
<line x1="308.70" y1="357.3" x2="308.70" y2="392.6" stroke="#4a4a4a" stroke-width="0.85"/>
<rect x="307.10" y="381.1" width="3.2" height="6.5" fill="#ec364c" stroke="#7a1a26" stroke-width="0.75"/>
<line x1="314.30" y1="366.6" x2="314.30" y2="392.6" stroke="#4a4a4a" stroke-width="0.85"/>
<rect x="312.70" y="381.5" width="3.2" height="6.8" fill="#ec364c" stroke="#7a1a26" stroke-width="0.75"/>
<line x1="319.90" y1="366.6" x2="319.90" y2="407.6" stroke="#4a4a4a" stroke-width="0.85"/>
<rect x="318.30" y="367.9" width="3.2" height="21.9" fill="#2c8c0e" stroke="#173f0a" stroke-width="0.75"/>
<line x1="325.51" y1="361.4" x2="325.51" y2="397.8" stroke="#4a4a4a" stroke-width="0.85"/>
<rect x="323.91" y="366.0" width="3.2" height="18.8" fill="#ec364c" stroke="#7a1a26" stroke-width="0.75"/>
<line x1="331.11" y1="341.5" x2="331.11" y2="382.8" stroke="#4a4a4a" stroke-width="0.85"/>
<rect x="329.51" y="346.2" width="3.2" height="36.6" fill="#2c8c0e" stroke="#173f0a" stroke-width="0.75"/>
<line x1="336.71" y1="323.9" x2="336.71" y2="347.1" stroke="#4a4a4a" stroke-width="0.85"/>
<rect x="335.11" y="327.0" width="3.2" height="20.1" fill="#2c8c0e" stroke="#173f0a" stroke-width="0.75"/>
<line x1="342.32" y1="320.5" x2="342.32" y2="345.6" stroke="#4a4a4a" stroke-width="0.85"/>
<rect x="340.72" y="326.3" width="3.2" height="5.6" fill="#ec364c" stroke="#7a1a26" stroke-width="0.75"/>
<line x1="347.92" y1="329.4" x2="347.92" y2="383.7" stroke="#4a4a4a" stroke-width="0.85"/>
<rect x="346.32" y="330.0" width="3.2" height="38.8" fill="#ec364c" stroke="#7a1a26" stroke-width="0.75"/>
<line x1="353.52" y1="322.9" x2="353.52" y2="372.7" stroke="#4a4a4a" stroke-width="0.85"/>
<rect x="351.92" y="326.1" width="3.2" height="46.6" fill="#2c8c0e" stroke="#173f0a" stroke-width="0.75"/>
<line x1="359.12" y1="271.8" x2="359.12" y2="314.9" stroke="#4a4a4a" stroke-width="0.85"/>
<rect x="357.52" y="287.4" width="3.2" height="27.5" fill="#2c8c0e" stroke="#173f0a" stroke-width="0.75"/>
<line x1="364.73" y1="267.0" x2="364.73" y2="289.4" stroke="#4a4a4a" stroke-width="0.85"/>
<rect x="363.13" y="267.1" width="3.2" height="16.7" fill="#2c8c0e" stroke="#173f0a" stroke-width="0.75"/>
<line x1="370.33" y1="246.7" x2="370.33" y2="270.8" stroke="#4a4a4a" stroke-width="0.85"/>
<rect x="368.73" y="258.7" width="3.2" height="6.2" fill="#2c8c0e" stroke="#173f0a" stroke-width="0.75"/>
<line x1="375.93" y1="250.4" x2="375.93" y2="279.7" stroke="#4a4a4a" stroke-width="0.85"/>
<rect x="374.33" y="252.2" width="3.2" height="17.7" fill="#2c8c0e" stroke="#173f0a" stroke-width="0.75"/>
<line x1="381.53" y1="239.8" x2="381.53" y2="266.7" stroke="#4a4a4a" stroke-width="0.85"/>
<rect x="379.93" y="251.3" width="3.2" height="10.2" fill="#ec364c" stroke="#7a1a26" stroke-width="0.75"/>
<line x1="387.14" y1="236.1" x2="387.14" y2="258.7" stroke="#4a4a4a" stroke-width="0.85"/>
<rect x="385.24" y="252.1" width="3.8" height="0.9" fill="#111"/>
<line x1="392.74" y1="248.0" x2="392.74" y2="269.0" stroke="#4a4a4a" stroke-width="0.85"/>
<rect x="391.14" y="254.1" width="3.2" height="2.8" fill="#ec364c" stroke="#7a1a26" stroke-width="0.75"/>
<line x1="398.34" y1="244.4" x2="398.34" y2="266.2" stroke="#4a4a4a" stroke-width="0.85"/>
<rect x="396.74" y="246.7" width="3.2" height="19.1" fill="#ec364c" stroke="#7a1a26" stroke-width="0.75"/>
<line x1="403.95" y1="237.4" x2="403.95" y2="269.5" stroke="#4a4a4a" stroke-width="0.85"/>
<rect x="402.35" y="242.0" width="3.2" height="13.9" fill="#2c8c0e" stroke="#173f0a" stroke-width="0.75"/>
<line x1="409.55" y1="239.2" x2="409.55" y2="254.1" stroke="#4a4a4a" stroke-width="0.85"/>
<rect x="407.95" y="243.3" width="3.2" height="4.8" fill="#ec364c" stroke="#7a1a26" stroke-width="0.75"/>
<line x1="415.15" y1="224.4" x2="415.15" y2="255.9" stroke="#4a4a4a" stroke-width="0.85"/>
<rect x="413.55" y="230.3" width="3.2" height="21.0" fill="#2c8c0e" stroke="#173f0a" stroke-width="0.75"/>
<line x1="420.75" y1="224.7" x2="420.75" y2="273.6" stroke="#4a4a4a" stroke-width="0.85"/>
<rect x="419.15" y="229.0" width="3.2" height="40.9" fill="#ec364c" stroke="#7a1a26" stroke-width="0.75"/>
<line x1="426.36" y1="219.7" x2="426.36" y2="265.8" stroke="#4a4a4a" stroke-width="0.85"/>
<rect x="424.76" y="226.6" width="3.2" height="39.2" fill="#2c8c0e" stroke="#173f0a" stroke-width="0.75"/>
<line x1="431.96" y1="214.5" x2="431.96" y2="231.8" stroke="#4a4a4a" stroke-width="0.85"/>
<rect x="430.36" y="217.5" width="3.2" height="9.7" fill="#ec364c" stroke="#7a1a26" stroke-width="0.75"/>
<line x1="437.56" y1="211.7" x2="437.56" y2="237.4" stroke="#4a4a4a" stroke-width="0.85"/>
<rect x="435.96" y="221.6" width="3.2" height="14.5" fill="#ec364c" stroke="#7a1a26" stroke-width="0.75"/>
<line x1="443.17" y1="220.7" x2="443.17" y2="254.1" stroke="#4a4a4a" stroke-width="0.85"/>
<rect x="441.57" y="233.1" width="3.2" height="10.8" fill="#ec364c" stroke="#7a1a26" stroke-width="0.75"/>
<line x1="448.77" y1="221.2" x2="448.77" y2="253.2" stroke="#4a4a4a" stroke-width="0.85"/>
<rect x="447.17" y="232.4" width="3.2" height="3.1" fill="#2c8c0e" stroke="#173f0a" stroke-width="0.75"/>
<line x1="454.37" y1="225.3" x2="454.37" y2="256.5" stroke="#4a4a4a" stroke-width="0.85"/>
<rect x="452.77" y="227.2" width="3.2" height="9.2" fill="#ec364c" stroke="#7a1a26" stroke-width="0.75"/>
<line x1="459.97" y1="221.2" x2="459.97" y2="254.1" stroke="#4a4a4a" stroke-width="0.85"/>
<rect x="458.37" y="239.2" width="3.2" height="10.6" fill="#ec364c" stroke="#7a1a26" stroke-width="0.75"/>
<line x1="465.58" y1="219.7" x2="465.58" y2="245.4" stroke="#4a4a4a" stroke-width="0.85"/>
<rect x="463.98" y="220.1" width="3.2" height="25.1" fill="#2c8c0e" stroke="#173f0a" stroke-width="0.75"/>
<line x1="471.18" y1="219.7" x2="471.18" y2="243.9" stroke="#4a4a4a" stroke-width="0.85"/>
<rect x="469.28" y="223.0" width="3.8" height="0.9" fill="#111"/>
<line x1="476.78" y1="196.1" x2="476.78" y2="220.1" stroke="#4a4a4a" stroke-width="0.85"/>
<rect x="475.18" y="198.9" width="3.2" height="10.6" fill="#2c8c0e" stroke="#173f0a" stroke-width="0.75"/>
<line x1="482.39" y1="181.8" x2="482.39" y2="206.7" stroke="#4a4a4a" stroke-width="0.85"/>
<rect x="480.79" y="183.1" width="3.2" height="17.4" fill="#2c8c0e" stroke="#173f0a" stroke-width="0.75"/>
<line x1="487.99" y1="184.0" x2="487.99" y2="215.6" stroke="#4a4a4a" stroke-width="0.85"/>
<rect x="486.39" y="186.3" width="3.2" height="3.3" fill="#ec364c" stroke="#7a1a26" stroke-width="0.75"/>
<line x1="493.59" y1="183.1" x2="493.59" y2="198.2" stroke="#4a4a4a" stroke-width="0.85"/>
<rect x="491.99" y="191.5" width="3.2" height="5.2" fill="#ec364c" stroke="#7a1a26" stroke-width="0.75"/>
<line x1="499.19" y1="179.0" x2="499.19" y2="197.4" stroke="#4a4a4a" stroke-width="0.85"/>
<rect x="497.59" y="185.5" width="3.2" height="6.9" fill="#2c8c0e" stroke="#173f0a" stroke-width="0.75"/>
<line x1="504.80" y1="171.0" x2="504.80" y2="214.7" stroke="#4a4a4a" stroke-width="0.85"/>
<rect x="503.20" y="185.5" width="3.2" height="4.7" fill="#ec364c" stroke="#7a1a26" stroke-width="0.75"/>
<line x1="510.40" y1="185.0" x2="510.40" y2="224.7" stroke="#4a4a4a" stroke-width="0.85"/>
<rect x="508.80" y="190.5" width="3.2" height="3.7" fill="#ec364c" stroke="#7a1a26" stroke-width="0.75"/>
<line x1="516.00" y1="165.5" x2="516.00" y2="195.2" stroke="#4a4a4a" stroke-width="0.85"/>
<rect x="514.40" y="169.2" width="3.2" height="24.1" fill="#2c8c0e" stroke="#173f0a" stroke-width="0.75"/>
<line x1="521.60" y1="147.8" x2="521.60" y2="178.5" stroke="#4a4a4a" stroke-width="0.85"/>
<rect x="520.00" y="148.4" width="3.2" height="20.2" fill="#2c8c0e" stroke="#173f0a" stroke-width="0.75"/>
<line x1="527.21" y1="139.1" x2="527.21" y2="155.2" stroke="#4a4a4a" stroke-width="0.85"/>
<rect x="525.61" y="140.0" width="3.2" height="9.7" fill="#2c8c0e" stroke="#173f0a" stroke-width="0.75"/>
<line x1="532.81" y1="130.5" x2="532.81" y2="151.5" stroke="#4a4a4a" stroke-width="0.85"/>
<rect x="531.21" y="138.1" width="3.2" height="13.1" fill="#ec364c" stroke="#7a1a26" stroke-width="0.75"/>
<line x1="538.41" y1="138.0" x2="538.41" y2="163.6" stroke="#4a4a4a" stroke-width="0.85"/>
<rect x="536.81" y="147.4" width="3.2" height="5.1" fill="#2c8c0e" stroke="#173f0a" stroke-width="0.75"/>
<line x1="544.02" y1="137.2" x2="544.02" y2="159.0" stroke="#4a4a4a" stroke-width="0.85"/>
<rect x="542.42" y="145.4" width="3.2" height="3.7" fill="#2c8c0e" stroke="#173f0a" stroke-width="0.75"/>
<line x1="549.62" y1="135.7" x2="549.62" y2="161.7" stroke="#4a4a4a" stroke-width="0.85"/>
<rect x="548.02" y="141.3" width="3.2" height="3.7" fill="#2c8c0e" stroke="#173f0a" stroke-width="0.75"/>
<line x1="555.22" y1="134.4" x2="555.22" y2="148.4" stroke="#4a4a4a" stroke-width="0.85"/>
<rect x="553.62" y="143.7" width="3.2" height="2.1" fill="#ec364c" stroke="#7a1a26" stroke-width="0.75"/>
<line x1="560.82" y1="129.2" x2="560.82" y2="169.2" stroke="#4a4a4a" stroke-width="0.85"/>
<rect x="559.22" y="129.8" width="3.2" height="19.3" fill="#2c8c0e" stroke="#173f0a" stroke-width="0.75"/>
<line x1="566.43" y1="124.2" x2="566.43" y2="139.4" stroke="#4a4a4a" stroke-width="0.85"/>
<rect x="564.53" y="129.9" width="3.8" height="0.9" fill="#111"/>
<line x1="572.03" y1="107.3" x2="572.03" y2="127.9" stroke="#4a4a4a" stroke-width="0.85"/>
<rect x="570.43" y="107.3" width="3.2" height="19.1" fill="#2c8c0e" stroke="#173f0a" stroke-width="0.75"/>
<line x1="577.63" y1="93.9" x2="577.63" y2="113.4" stroke="#4a4a4a" stroke-width="0.85"/>
<rect x="576.03" y="97.3" width="3.2" height="14.3" fill="#2c8c0e" stroke="#173f0a" stroke-width="0.75"/>
<line x1="583.24" y1="98.0" x2="583.24" y2="132.4" stroke="#4a4a4a" stroke-width="0.85"/>
<rect x="581.64" y="100.1" width="3.2" height="18.4" fill="#ec364c" stroke="#7a1a26" stroke-width="0.75"/>
<line x1="588.84" y1="110.7" x2="588.84" y2="123.1" stroke="#4a4a4a" stroke-width="0.85"/>
<rect x="586.94" y="117.1" width="3.8" height="0.9" fill="#111"/>
<line x1="594.44" y1="110.7" x2="594.44" y2="127.4" stroke="#4a4a4a" stroke-width="0.85"/>
<rect x="592.84" y="115.3" width="3.2" height="1.3" fill="#2c8c0e" stroke="#173f0a" stroke-width="0.75"/>
<line x1="600.04" y1="107.3" x2="600.04" y2="140.4" stroke="#4a4a4a" stroke-width="0.85"/>
<rect x="598.44" y="118.6" width="3.2" height="19.9" fill="#ec364c" stroke="#7a1a26" stroke-width="0.75"/>
<line x1="605.65" y1="117.7" x2="605.65" y2="145.0" stroke="#4a4a4a" stroke-width="0.85"/>
<rect x="604.05" y="135.4" width="3.2" height="6.8" fill="#ec364c" stroke="#7a1a26" stroke-width="0.75"/>
<line x1="611.25" y1="133.9" x2="611.25" y2="181.6" stroke="#4a4a4a" stroke-width="0.85"/>
<rect x="609.65" y="143.2" width="3.2" height="2.2" fill="#ec364c" stroke="#7a1a26" stroke-width="0.75"/>
<line x1="616.85" y1="130.2" x2="616.85" y2="175.7" stroke="#4a4a4a" stroke-width="0.85"/>
<rect x="615.25" y="142.2" width="3.2" height="22.3" fill="#ec364c" stroke="#7a1a26" stroke-width="0.75"/>
<line x1="622.46" y1="145.4" x2="622.46" y2="175.7" stroke="#4a4a4a" stroke-width="0.85"/>
<rect x="620.86" y="149.3" width="3.2" height="21.4" fill="#2c8c0e" stroke="#173f0a" stroke-width="0.75"/>
<line x1="628.06" y1="134.4" x2="628.06" y2="157.7" stroke="#4a4a4a" stroke-width="0.85"/>
<rect x="626.46" y="135.2" width="3.2" height="15.4" fill="#2c8c0e" stroke="#173f0a" stroke-width="0.75"/>
<line x1="633.66" y1="124.6" x2="633.66" y2="142.2" stroke="#4a4a4a" stroke-width="0.85"/>
<rect x="632.06" y="126.4" width="3.2" height="8.0" fill="#2c8c0e" stroke="#173f0a" stroke-width="0.75"/>
<line x1="639.26" y1="119.9" x2="639.26" y2="149.3" stroke="#4a4a4a" stroke-width="0.85"/>
<rect x="637.66" y="128.3" width="3.2" height="11.7" fill="#ec364c" stroke="#7a1a26" stroke-width="0.75"/>
<line x1="644.87" y1="116.8" x2="644.87" y2="147.2" stroke="#4a4a4a" stroke-width="0.85"/>
<rect x="643.27" y="119.4" width="3.2" height="15.0" fill="#2c8c0e" stroke="#173f0a" stroke-width="0.75"/>
<line x1="650.47" y1="120.5" x2="650.47" y2="145.0" stroke="#4a4a4a" stroke-width="0.85"/>
<rect x="648.87" y="122.2" width="3.2" height="3.3" fill="#ec364c" stroke="#7a1a26" stroke-width="0.75"/>
<line x1="656.07" y1="119.0" x2="656.07" y2="142.8" stroke="#4a4a4a" stroke-width="0.85"/>
<rect x="654.47" y="126.1" width="3.2" height="15.8" fill="#ec364c" stroke="#7a1a26" stroke-width="0.75"/>
<line x1="661.67" y1="129.2" x2="661.67" y2="172.5" stroke="#4a4a4a" stroke-width="0.85"/>
<rect x="660.07" y="139.1" width="3.2" height="33.2" fill="#ec364c" stroke="#7a1a26" stroke-width="0.75"/>
<line x1="667.28" y1="144.1" x2="667.28" y2="176.6" stroke="#4a4a4a" stroke-width="0.85"/>
<rect x="665.68" y="165.5" width="3.2" height="3.1" fill="#2c8c0e" stroke="#173f0a" stroke-width="0.75"/>
<line x1="672.88" y1="125.5" x2="672.88" y2="163.6" stroke="#4a4a4a" stroke-width="0.85"/>
<rect x="671.28" y="140.4" width="3.2" height="17.3" fill="#2c8c0e" stroke="#173f0a" stroke-width="0.75"/>
<line x1="678.48" y1="129.8" x2="678.48" y2="152.5" stroke="#4a4a4a" stroke-width="0.85"/>
<rect x="676.88" y="139.1" width="3.2" height="7.2" fill="#ec364c" stroke="#7a1a26" stroke-width="0.75"/>
<line x1="684.09" y1="125.5" x2="684.09" y2="158.0" stroke="#4a4a4a" stroke-width="0.85"/>
<rect x="682.49" y="128.3" width="3.2" height="23.2" fill="#2c8c0e" stroke="#173f0a" stroke-width="0.75"/>
<line x1="689.69" y1="108.8" x2="689.69" y2="128.7" stroke="#4a4a4a" stroke-width="0.85"/>
<rect x="688.09" y="117.2" width="3.2" height="11.1" fill="#ec364c" stroke="#7a1a26" stroke-width="0.75"/>
<line x1="695.29" y1="91.5" x2="695.29" y2="140.8" stroke="#4a4a4a" stroke-width="0.85"/>
<rect x="693.69" y="118.1" width="3.2" height="10.2" fill="#2c8c0e" stroke="#173f0a" stroke-width="0.75"/>
<line x1="700.89" y1="119.9" x2="700.89" y2="142.2" stroke="#4a4a4a" stroke-width="0.85"/>
<rect x="699.29" y="125.1" width="3.2" height="8.8" fill="#ec364c" stroke="#7a1a26" stroke-width="0.75"/>
<line x1="706.50" y1="126.4" x2="706.50" y2="179.8" stroke="#4a4a4a" stroke-width="0.85"/>
<rect x="704.90" y="129.8" width="3.2" height="50.0" fill="#ec364c" stroke="#7a1a26" stroke-width="0.75"/>
<line x1="712.10" y1="172.3" x2="712.10" y2="238.0" stroke="#4a4a4a" stroke-width="0.85"/>
<rect x="710.50" y="184.0" width="3.2" height="26.3" fill="#ec364c" stroke="#7a1a26" stroke-width="0.75"/>
<line x1="717.70" y1="176.6" x2="717.70" y2="213.8" stroke="#4a4a4a" stroke-width="0.85"/>
<rect x="716.10" y="186.3" width="3.2" height="13.3" fill="#2c8c0e" stroke="#173f0a" stroke-width="0.75"/>
<line x1="723.31" y1="143.2" x2="723.31" y2="192.0" stroke="#4a4a4a" stroke-width="0.85"/>
<rect x="721.71" y="169.5" width="3.2" height="19.2" fill="#2c8c0e" stroke="#173f0a" stroke-width="0.75"/>
<line x1="728.91" y1="141.9" x2="728.91" y2="176.6" stroke="#4a4a4a" stroke-width="0.85"/>
<rect x="727.31" y="166.9" width="3.2" height="5.4" fill="#2c8c0e" stroke="#173f0a" stroke-width="0.75"/>
<line x1="734.51" y1="158.4" x2="734.51" y2="207.5" stroke="#4a4a4a" stroke-width="0.85"/>
<rect x="732.91" y="172.3" width="3.2" height="6.7" fill="#ec364c" stroke="#7a1a26" stroke-width="0.75"/>
<line x1="740.11" y1="165.5" x2="740.11" y2="200.0" stroke="#4a4a4a" stroke-width="0.85"/>
<rect x="738.51" y="179.9" width="3.2" height="4.7" fill="#ec364c" stroke="#7a1a26" stroke-width="0.75"/>
<line x1="745.72" y1="168.2" x2="745.72" y2="213.8" stroke="#4a4a4a" stroke-width="0.85"/>
<rect x="744.12" y="184.6" width="3.2" height="2.5" fill="#2c8c0e" stroke="#173f0a" stroke-width="0.75"/>
<line x1="751.32" y1="139.8" x2="751.32" y2="193.0" stroke="#4a4a4a" stroke-width="0.85"/>
<rect x="749.72" y="140.9" width="3.2" height="33.8" fill="#2c8c0e" stroke="#173f0a" stroke-width="0.75"/>
<line x1="756.92" y1="125.1" x2="756.92" y2="155.2" stroke="#4a4a4a" stroke-width="0.85"/>
<rect x="755.32" y="126.1" width="3.2" height="20.4" fill="#2c8c0e" stroke="#173f0a" stroke-width="0.75"/>
<line x1="762.53" y1="107.9" x2="762.53" y2="132.6" stroke="#4a4a4a" stroke-width="0.85"/>
<rect x="760.93" y="114.4" width="3.2" height="15.4" fill="#2c8c0e" stroke="#173f0a" stroke-width="0.75"/>
<line x1="768.13" y1="105.5" x2="768.13" y2="129.8" stroke="#4a4a4a" stroke-width="0.85"/>
<rect x="766.23" y="115.9" width="3.8" height="0.9" fill="#111"/>
<line x1="773.73" y1="108.8" x2="773.73" y2="128.7" stroke="#4a4a4a" stroke-width="0.85"/>
<rect x="772.13" y="112.1" width="3.2" height="3.2" fill="#2c8c0e" stroke="#173f0a" stroke-width="0.75"/>
<line x1="779.33" y1="95.8" x2="779.33" y2="143.2" stroke="#4a4a4a" stroke-width="0.85"/>
<rect x="777.73" y="113.1" width="3.2" height="30.1" fill="#ec364c" stroke="#7a1a26" stroke-width="0.75"/>
<line x1="784.94" y1="126.4" x2="784.94" y2="167.7" stroke="#4a4a4a" stroke-width="0.85"/>
<rect x="783.34" y="143.7" width="3.2" height="4.7" fill="#ec364c" stroke="#7a1a26" stroke-width="0.75"/>
<line x1="790.54" y1="139.1" x2="790.54" y2="183.2" stroke="#4a4a4a" stroke-width="0.85"/>
<rect x="788.94" y="146.0" width="3.2" height="31.5" fill="#ec364c" stroke="#7a1a26" stroke-width="0.75"/>
<line x1="796.14" y1="172.3" x2="796.14" y2="218.6" stroke="#4a4a4a" stroke-width="0.85"/>
<rect x="794.54" y="180.8" width="3.2" height="1.4" fill="#ec364c" stroke="#7a1a26" stroke-width="0.75"/>
<line x1="801.74" y1="166.8" x2="801.74" y2="200.0" stroke="#4a4a4a" stroke-width="0.85"/>
<rect x="800.14" y="175.1" width="3.2" height="3.0" fill="#2c8c0e" stroke="#173f0a" stroke-width="0.75"/>
<line x1="807.35" y1="154.3" x2="807.35" y2="184.6" stroke="#4a4a4a" stroke-width="0.85"/>
<rect x="805.75" y="154.9" width="3.2" height="18.5" fill="#2c8c0e" stroke="#173f0a" stroke-width="0.75"/>
<line x1="812.95" y1="150.2" x2="812.95" y2="173.8" stroke="#4a4a4a" stroke-width="0.85"/>
<rect x="811.35" y="153.8" width="3.2" height="11.7" fill="#ec364c" stroke="#7a1a26" stroke-width="0.75"/>
<line x1="818.55" y1="159.5" x2="818.55" y2="239.8" stroke="#4a4a4a" stroke-width="0.85"/>
<rect x="816.95" y="166.0" width="3.2" height="63.6" fill="#ec364c" stroke="#7a1a26" stroke-width="0.75"/>
<line x1="824.16" y1="242.6" x2="824.16" y2="295.5" stroke="#4a4a4a" stroke-width="0.85"/>
<rect x="822.56" y="245.6" width="3.2" height="44.4" fill="#ec364c" stroke="#7a1a26" stroke-width="0.75"/>
<line x1="829.76" y1="249.1" x2="829.76" y2="296.1" stroke="#4a4a4a" stroke-width="0.85"/>
<rect x="828.16" y="251.1" width="3.2" height="38.9" fill="#2c8c0e" stroke="#173f0a" stroke-width="0.75"/>
<line x1="835.36" y1="230.2" x2="835.36" y2="282.2" stroke="#4a4a4a" stroke-width="0.85"/>
<rect x="833.76" y="253.9" width="3.2" height="3.2" fill="#ec364c" stroke="#7a1a26" stroke-width="0.75"/>
<line x1="840.96" y1="245.0" x2="840.96" y2="278.1" stroke="#4a4a4a" stroke-width="0.85"/>
<rect x="839.36" y="248.2" width="3.2" height="12.1" fill="#2c8c0e" stroke="#173f0a" stroke-width="0.75"/>
<line x1="846.57" y1="247.2" x2="846.57" y2="276.0" stroke="#4a4a4a" stroke-width="0.85"/>
<rect x="844.97" y="250.0" width="3.2" height="5.6" fill="#ec364c" stroke="#7a1a26" stroke-width="0.75"/>
<line x1="852.17" y1="226.4" x2="852.17" y2="261.2" stroke="#4a4a4a" stroke-width="0.85"/>
<rect x="850.57" y="234.4" width="3.2" height="19.4" fill="#2c8c0e" stroke="#173f0a" stroke-width="0.75"/>
<line x1="857.77" y1="194.9" x2="857.77" y2="236.3" stroke="#4a4a4a" stroke-width="0.85"/>
<rect x="856.17" y="197.3" width="3.2" height="39.0" fill="#2c8c0e" stroke="#173f0a" stroke-width="0.75"/>
<line x1="863.38" y1="191.5" x2="863.38" y2="210.7" stroke="#4a4a4a" stroke-width="0.85"/>
<rect x="861.78" y="197.6" width="3.2" height="3.2" fill="#ec364c" stroke="#7a1a26" stroke-width="0.75"/>
<line x1="868.98" y1="185.6" x2="868.98" y2="200.0" stroke="#4a4a4a" stroke-width="0.85"/>
<rect x="867.38" y="186.1" width="3.2" height="12.8" fill="#2c8c0e" stroke="#173f0a" stroke-width="0.75"/>
<line x1="874.58" y1="175.7" x2="874.58" y2="189.7" stroke="#4a4a4a" stroke-width="0.85"/>
<rect x="872.98" y="186.1" width="3.2" height="2.6" fill="#2c8c0e" stroke="#173f0a" stroke-width="0.75"/>
<line x1="880.18" y1="179.0" x2="880.18" y2="208.8" stroke="#4a4a4a" stroke-width="0.85"/>
<rect x="878.58" y="189.3" width="3.2" height="10.6" fill="#ec364c" stroke="#7a1a26" stroke-width="0.75"/>
<line x1="885.79" y1="195.2" x2="885.79" y2="226.8" stroke="#4a4a4a" stroke-width="0.85"/>
<rect x="884.19" y="208.8" width="3.2" height="13.9" fill="#ec364c" stroke="#7a1a26" stroke-width="0.75"/>
<line x1="891.39" y1="203.6" x2="891.39" y2="240.4" stroke="#4a4a4a" stroke-width="0.85"/>
<rect x="889.79" y="204.5" width="3.2" height="18.2" fill="#2c8c0e" stroke="#173f0a" stroke-width="0.75"/>
<line x1="896.99" y1="193.0" x2="896.99" y2="247.8" stroke="#4a4a4a" stroke-width="0.85"/>
<rect x="895.39" y="203.8" width="3.2" height="39.9" fill="#ec364c" stroke="#7a1a26" stroke-width="0.75"/>
<line x1="902.60" y1="227.4" x2="902.60" y2="289.6" stroke="#4a4a4a" stroke-width="0.85"/>
<rect x="901.00" y="241.9" width="3.2" height="43.4" fill="#ec364c" stroke="#7a1a26" stroke-width="0.75"/>
<line x1="908.20" y1="264.9" x2="908.20" y2="295.2" stroke="#4a4a4a" stroke-width="0.85"/>
<rect x="906.60" y="282.7" width="3.2" height="4.1" fill="#2c8c0e" stroke="#173f0a" stroke-width="0.75"/>
<line x1="913.80" y1="229.2" x2="913.80" y2="296.1" stroke="#4a4a4a" stroke-width="0.85"/>
<rect x="912.20" y="247.2" width="3.2" height="37.4" fill="#2c8c0e" stroke="#173f0a" stroke-width="0.75"/>
<line x1="919.40" y1="232.9" x2="919.40" y2="272.5" stroke="#4a4a4a" stroke-width="0.85"/>
<rect x="917.50" y="253.3" width="3.8" height="0.9" fill="#111"/>
<line x1="925.01" y1="227.9" x2="925.01" y2="257.1" stroke="#4a4a4a" stroke-width="0.85"/>
<rect x="923.41" y="237.0" width="3.2" height="14.5" fill="#2c8c0e" stroke="#173f0a" stroke-width="0.75"/>
<line x1="930.61" y1="219.0" x2="930.61" y2="241.3" stroke="#4a4a4a" stroke-width="0.85"/>
<rect x="929.01" y="220.9" width="3.2" height="11.7" fill="#2c8c0e" stroke="#173f0a" stroke-width="0.75"/>
<line x1="936.21" y1="193.9" x2="936.21" y2="231.6" stroke="#4a4a4a" stroke-width="0.85"/>
<rect x="934.61" y="201.5" width="3.2" height="19.0" fill="#2c8c0e" stroke="#173f0a" stroke-width="0.75"/>
<line x1="941.81" y1="164.0" x2="941.81" y2="213.1" stroke="#4a4a4a" stroke-width="0.85"/>
<rect x="940.21" y="165.3" width="3.2" height="41.0" fill="#2c8c0e" stroke="#173f0a" stroke-width="0.75"/>
<line x1="947.42" y1="165.3" x2="947.42" y2="182.6" stroke="#4a4a4a" stroke-width="0.85"/>
<rect x="945.52" y="169.1" width="3.8" height="0.9" fill="#111"/>
<line x1="953.02" y1="154.1" x2="953.02" y2="176.0" stroke="#4a4a4a" stroke-width="0.85"/>
<rect x="951.42" y="157.5" width="3.2" height="12.0" fill="#2c8c0e" stroke="#173f0a" stroke-width="0.75"/>
<line x1="958.62" y1="136.1" x2="958.62" y2="164.9" stroke="#4a4a4a" stroke-width="0.85"/>
<rect x="957.02" y="145.4" width="3.2" height="12.6" fill="#2c8c0e" stroke="#173f0a" stroke-width="0.75"/>
<line x1="964.23" y1="141.3" x2="964.23" y2="169.5" stroke="#4a4a4a" stroke-width="0.85"/>
<rect x="962.63" y="145.4" width="3.2" height="23.8" fill="#ec364c" stroke="#7a1a26" stroke-width="0.75"/>
<line x1="969.83" y1="148.2" x2="969.83" y2="183.6" stroke="#4a4a4a" stroke-width="0.85"/>
<rect x="968.23" y="168.6" width="3.2" height="9.8" fill="#ec364c" stroke="#7a1a26" stroke-width="0.75"/>
<line x1="975.43" y1="169.2" x2="975.43" y2="194.9" stroke="#4a4a4a" stroke-width="0.85"/>
<rect x="973.83" y="180.1" width="3.2" height="2.1" fill="#ec364c" stroke="#7a1a26" stroke-width="0.75"/>
<line x1="981.03" y1="177.3" x2="981.03" y2="198.7" stroke="#4a4a4a" stroke-width="0.85"/>
<rect x="979.43" y="180.7" width="3.2" height="10.2" fill="#ec364c" stroke="#7a1a26" stroke-width="0.75"/>
<line x1="986.64" y1="168.6" x2="986.64" y2="213.8" stroke="#4a4a4a" stroke-width="0.85"/>
<rect x="985.04" y="170.1" width="3.2" height="16.1" fill="#2c8c0e" stroke="#173f0a" stroke-width="0.75"/>
<line x1="992.24" y1="137.9" x2="992.24" y2="177.3" stroke="#4a4a4a" stroke-width="0.85"/>
<rect x="990.64" y="138.3" width="3.2" height="31.8" fill="#2c8c0e" stroke="#173f0a" stroke-width="0.75"/>
<line x1="997.84" y1="118.1" x2="997.84" y2="139.8" stroke="#4a4a4a" stroke-width="0.85"/>
<rect x="996.24" y="118.8" width="3.2" height="20.6" fill="#2c8c0e" stroke="#173f0a" stroke-width="0.75"/>
<line x1="1003.45" y1="111.9" x2="1003.45" y2="125.9" stroke="#4a4a4a" stroke-width="0.85"/>
<rect x="1001.85" y="113.8" width="3.2" height="5.6" fill="#2c8c0e" stroke="#173f0a" stroke-width="0.75"/>
<line x1="1009.05" y1="100.2" x2="1009.05" y2="121.8" stroke="#4a4a4a" stroke-width="0.85"/>
<rect x="1007.45" y="103.2" width="3.2" height="12.5" fill="#2c8c0e" stroke="#173f0a" stroke-width="0.75"/>
<line x1="1014.65" y1="104.5" x2="1014.65" y2="132.4" stroke="#4a4a4a" stroke-width="0.85"/>
<rect x="1013.05" y="105.8" width="3.2" height="22.3" fill="#ec364c" stroke="#7a1a26" stroke-width="0.75"/>
<line x1="1020.25" y1="120.3" x2="1020.25" y2="145.4" stroke="#4a4a4a" stroke-width="0.85"/>
<rect x="1018.65" y="127.7" width="3.2" height="13.6" fill="#ec364c" stroke="#7a1a26" stroke-width="0.75"/>
<line x1="1025.86" y1="138.9" x2="1025.86" y2="167.7" stroke="#4a4a4a" stroke-width="0.85"/>
<rect x="1024.26" y="140.4" width="3.2" height="23.2" fill="#ec364c" stroke="#7a1a26" stroke-width="0.75"/>
<line x1="1031.46" y1="147.2" x2="1031.46" y2="172.7" stroke="#4a4a4a" stroke-width="0.85"/>
<rect x="1029.86" y="148.5" width="3.2" height="16.0" fill="#2c8c0e" stroke="#173f0a" stroke-width="0.75"/>
<line x1="1037.06" y1="143.0" x2="1037.06" y2="182.0" stroke="#4a4a4a" stroke-width="0.85"/>
<rect x="1035.46" y="149.5" width="3.2" height="32.1" fill="#ec364c" stroke="#7a1a26" stroke-width="0.75"/>
<line x1="1042.67" y1="167.7" x2="1042.67" y2="220.9" stroke="#4a4a4a" stroke-width="0.85"/>
<rect x="1041.07" y="168.0" width="3.2" height="47.7" fill="#ec364c" stroke="#7a1a26" stroke-width="0.75"/>
<line x1="1048.27" y1="192.5" x2="1048.27" y2="226.8" stroke="#4a4a4a" stroke-width="0.85"/>
<rect x="1046.67" y="206.3" width="3.2" height="4.1" fill="#2c8c0e" stroke="#173f0a" stroke-width="0.75"/>
<line x1="1053.87" y1="163.0" x2="1053.87" y2="208.6" stroke="#4a4a4a" stroke-width="0.85"/>
<rect x="1052.27" y="164.0" width="3.2" height="38.5" fill="#2c8c0e" stroke="#173f0a" stroke-width="0.75"/>
<line x1="1059.47" y1="154.1" x2="1059.47" y2="166.2" stroke="#4a4a4a" stroke-width="0.85"/>
<rect x="1057.87" y="160.2" width="3.2" height="5.2" fill="#2c8c0e" stroke="#173f0a" stroke-width="0.75"/>
<line x1="1065.08" y1="134.2" x2="1065.08" y2="153.7" stroke="#4a4a4a" stroke-width="0.85"/>
<rect x="1063.48" y="137.9" width="3.2" height="13.6" fill="#2c8c0e" stroke="#173f0a" stroke-width="0.75"/>
<line x1="1070.68" y1="132.9" x2="1070.68" y2="147.2" stroke="#4a4a4a" stroke-width="0.85"/>
<rect x="1069.08" y="134.8" width="3.2" height="11.1" fill="#ec364c" stroke="#7a1a26" stroke-width="0.75"/>
<line x1="1076.28" y1="137.4" x2="1076.28" y2="153.4" stroke="#4a4a4a" stroke-width="0.85"/>
<rect x="1074.68" y="138.9" width="3.2" height="7.0" fill="#2c8c0e" stroke="#173f0a" stroke-width="0.75"/>
<line x1="1081.88" y1="137.0" x2="1081.88" y2="177.0" stroke="#4a4a4a" stroke-width="0.85"/>
<rect x="1080.28" y="141.1" width="3.2" height="11.3" fill="#ec364c" stroke="#7a1a26" stroke-width="0.75"/>
<line x1="1087.49" y1="150.4" x2="1087.49" y2="166.7" stroke="#4a4a4a" stroke-width="0.85"/>
<rect x="1085.89" y="152.8" width="3.2" height="2.8" fill="#ec364c" stroke="#7a1a26" stroke-width="0.75"/>
<line x1="1093.09" y1="150.0" x2="1093.09" y2="171.4" stroke="#4a4a4a" stroke-width="0.85"/>
<rect x="1091.49" y="154.1" width="3.2" height="2.4" fill="#2c8c0e" stroke="#173f0a" stroke-width="0.75"/>
<line x1="1098.69" y1="151.9" x2="1098.69" y2="181.0" stroke="#4a4a4a" stroke-width="0.85"/>
<rect x="1097.09" y="155.0" width="3.2" height="6.2" fill="#ec364c" stroke="#7a1a26" stroke-width="0.75"/>
<line x1="1104.30" y1="156.5" x2="1104.30" y2="190.0" stroke="#4a4a4a" stroke-width="0.85"/>
<rect x="1102.70" y="159.7" width="3.2" height="3.0" fill="#ec364c" stroke="#7a1a26" stroke-width="0.75"/>
<line x1="1109.90" y1="158.9" x2="1109.90" y2="185.3" stroke="#4a4a4a" stroke-width="0.85"/>
<rect x="1108.30" y="164.0" width="3.2" height="20.0" fill="#ec364c" stroke="#7a1a26" stroke-width="0.75"/>
<line x1="1115.50" y1="147.6" x2="1115.50" y2="184.4" stroke="#4a4a4a" stroke-width="0.85"/>
<rect x="1113.90" y="155.2" width="3.2" height="27.7" fill="#2c8c0e" stroke="#173f0a" stroke-width="0.75"/>
<line x1="1121.10" y1="133.7" x2="1121.10" y2="188.1" stroke="#4a4a4a" stroke-width="0.85"/>
<rect x="1119.50" y="156.0" width="3.2" height="28.8" fill="#ec364c" stroke="#7a1a26" stroke-width="0.75"/>
<line x1="1126.71" y1="158.4" x2="1126.71" y2="189.0" stroke="#4a4a4a" stroke-width="0.85"/>
<rect x="1125.11" y="161.5" width="3.2" height="19.2" fill="#2c8c0e" stroke="#173f0a" stroke-width="0.75"/>
<line x1="1132.31" y1="150.0" x2="1132.31" y2="196.1" stroke="#4a4a4a" stroke-width="0.85"/>
<rect x="1130.71" y="159.7" width="3.2" height="28.8" fill="#ec364c" stroke="#7a1a26" stroke-width="0.75"/>
<line x1="1137.91" y1="141.7" x2="1137.91" y2="198.7" stroke="#4a4a4a" stroke-width="0.85"/>
<rect x="1136.31" y="146.9" width="3.2" height="40.6" fill="#2c8c0e" stroke="#173f0a" stroke-width="0.75"/>
<line x1="1143.52" y1="134.2" x2="1143.52" y2="154.1" stroke="#4a4a4a" stroke-width="0.85"/>
<rect x="1141.92" y="141.3" width="3.2" height="7.8" fill="#2c8c0e" stroke="#173f0a" stroke-width="0.75"/>
<line x1="1149.12" y1="116.0" x2="1149.12" y2="145.9" stroke="#4a4a4a" stroke-width="0.85"/>
<rect x="1147.52" y="127.3" width="3.2" height="13.4" fill="#2c8c0e" stroke="#173f0a" stroke-width="0.75"/>
<line x1="1154.72" y1="119.0" x2="1154.72" y2="154.6" stroke="#4a4a4a" stroke-width="0.85"/>
<rect x="1153.12" y="124.9" width="3.2" height="21.7" fill="#ec364c" stroke="#7a1a26" stroke-width="0.75"/>
<line x1="1160.32" y1="132.9" x2="1160.32" y2="151.8" stroke="#4a4a4a" stroke-width="0.85"/>
<rect x="1158.72" y="144.0" width="3.2" height="2.3" fill="#2c8c0e" stroke="#173f0a" stroke-width="0.75"/>
<line x1="1165.93" y1="143.5" x2="1165.93" y2="184.7" stroke="#4a4a4a" stroke-width="0.85"/>
<rect x="1164.33" y="145.0" width="3.2" height="32.8" fill="#ec364c" stroke="#7a1a26" stroke-width="0.75"/>
<line x1="1171.53" y1="165.2" x2="1171.53" y2="183.4" stroke="#4a4a4a" stroke-width="0.85"/>
<rect x="1169.93" y="175.4" width="3.2" height="1.9" fill="#2c8c0e" stroke="#173f0a" stroke-width="0.75"/>
</g>
<rect x="8.5" y="23.5" width="1275" height="629" fill="none" stroke="#e8eaf1" stroke-width="1.2"/>
<text x="1237.9" y="594.0" textLength="36.5" lengthAdjust="spacingAndGlyphs">4600.00</text>
<text x="1237.9" y="561.4" textLength="36.5" lengthAdjust="spacingAndGlyphs">4800.00</text>
<text x="1237.9" y="528.7" textLength="36.5" lengthAdjust="spacingAndGlyphs">5000.00</text>
<text x="1237.9" y="496.1" textLength="36.5" lengthAdjust="spacingAndGlyphs">5200.00</text>
<text x="1237.9" y="463.4" textLength="36.5" lengthAdjust="spacingAndGlyphs">5400.00</text>
<text x="1237.9" y="430.7" textLength="36.5" lengthAdjust="spacingAndGlyphs">5600.00</text>
<text x="1237.9" y="398.1" textLength="36.5" lengthAdjust="spacingAndGlyphs">5800.00</text>
<text x="1237.9" y="365.4" textLength="36.5" lengthAdjust="spacingAndGlyphs">6000.00</text>
<text x="1237.9" y="332.8" textLength="36.5" lengthAdjust="spacingAndGlyphs">6200.00</text>
<text x="1237.9" y="300.1" textLength="36.5" lengthAdjust="spacingAndGlyphs">6400.00</text>
<text x="1237.9" y="267.5" textLength="36.5" lengthAdjust="spacingAndGlyphs">6600.00</text>
<text x="1237.9" y="234.8" textLength="36.5" lengthAdjust="spacingAndGlyphs">6800.00</text>
<text x="1237.9" y="202.2" textLength="36.5" lengthAdjust="spacingAndGlyphs">7000.00</text>
<text x="1237.9" y="169.5" textLength="36.5" lengthAdjust="spacingAndGlyphs">7200.00</text>
<text x="1237.9" y="136.8" textLength="36.5" lengthAdjust="spacingAndGlyphs">7400.00</text>
<text x="1237.9" y="104.2" textLength="36.5" lengthAdjust="spacingAndGlyphs">7600.00</text>
<text x="1237.9" y="71.5" textLength="36.5" lengthAdjust="spacingAndGlyphs">7800.00</text>
<text x="100.6" y="643.7" textLength="24.0" lengthAdjust="spacingAndGlyphs" class="b" style="color:#3b3f4a;font-size:10.4px;stroke-width:0">2020</text>
<text x="177.3" y="643.7" textLength="16.3" lengthAdjust="spacingAndGlyphs" style="font-size:10.4px">Apr</text>
<text x="250.1" y="643.7" textLength="16.3" lengthAdjust="spacingAndGlyphs" style="font-size:10.4px">Lug</text>
<text x="323.7" y="643.7" textLength="14.9" lengthAdjust="spacingAndGlyphs" style="font-size:10.4px">Ott</text>
<text x="391.9" y="643.7" textLength="24.0" lengthAdjust="spacingAndGlyphs" class="b" style="color:#3b3f4a;font-size:10.4px;stroke-width:0">2021</text>
<text x="468.6" y="643.7" textLength="16.3" lengthAdjust="spacingAndGlyphs" style="font-size:10.4px">Apr</text>
<text x="541.5" y="643.7" textLength="16.3" lengthAdjust="spacingAndGlyphs" style="font-size:10.4px">Lug</text>
<text x="615.0" y="643.7" textLength="14.9" lengthAdjust="spacingAndGlyphs" style="font-size:10.4px">Ott</text>
<text x="683.3" y="643.7" textLength="24.0" lengthAdjust="spacingAndGlyphs" class="b" style="color:#3b3f4a;font-size:10.4px;stroke-width:0">2022</text>
<text x="760.0" y="643.7" textLength="16.3" lengthAdjust="spacingAndGlyphs" style="font-size:10.4px">Apr</text>
<text x="832.8" y="643.7" textLength="16.3" lengthAdjust="spacingAndGlyphs" style="font-size:10.4px">Lug</text>
<text x="906.4" y="643.7" textLength="14.9" lengthAdjust="spacingAndGlyphs" style="font-size:10.4px">Ott</text>
<text x="974.6" y="643.7" textLength="24.0" lengthAdjust="spacingAndGlyphs" class="b" style="color:#3b3f4a;font-size:10.4px;stroke-width:0">2023</text>
<text x="1051.3" y="643.7" textLength="16.3" lengthAdjust="spacingAndGlyphs" style="font-size:10.4px">Apr</text>
<text x="1124.2" y="643.7" textLength="16.3" lengthAdjust="spacingAndGlyphs" style="font-size:10.4px">Lug</text>
<text x="1197.7" y="643.7" textLength="14.9" lengthAdjust="spacingAndGlyphs" style="font-size:10.4px">Ott</text>
<text x="16.1" y="41.3" textLength="163.1" lengthAdjust="spacingAndGlyphs">Australia 200 Cash, 1W, EIGHTCAP</text>
<text x="186.0" y="41.3" textLength="78.8" lengthAdjust="spacingAndGlyphs">O - Aper.7131.83</text>
<text x="272.2" y="41.3" textLength="76.6" lengthAdjust="spacingAndGlyphs">H - Max.7202.87</text>
<text x="355.7" y="41.3" textLength="72.4" lengthAdjust="spacingAndGlyphs">L - Min.7091.87</text>
<text x="435.4" y="41.3" textLength="83.4" lengthAdjust="spacingAndGlyphs">C - Chius.7139.78</text>
<text x="526.4" y="41.3" textLength="74.2" lengthAdjust="spacingAndGlyphs">+14.95 (+0.21%)</text>
<text x="608.2" y="41.3" textLength="52.0" lengthAdjust="spacingAndGlyphs">Vol33.315K</text>
<text x="16.1" y="56.2" textLength="90.8" lengthAdjust="spacingAndGlyphs">BB (50, close, 2, 0)</text>
<text x="114.2" y="56.2" textLength="36.6" lengthAdjust="spacingAndGlyphs" style="color:#ffa91c">7159.80</text>
<text x="157.8" y="56.2" textLength="37.1" lengthAdjust="spacingAndGlyphs" style="color:#5050f5">7650.64</text>
<text x="201.7" y="56.2" textLength="37.1" lengthAdjust="spacingAndGlyphs" style="color:#5050f5">6668.96</text>
<text x="16.1" y="71.6" textLength="113.0" lengthAdjust="spacingAndGlyphs">MA (9, close, 0, SMA, 5)</text>
<text x="136.2" y="71.6" textLength="36.5" lengthAdjust="spacingAndGlyphs" style="color:#ea3b52">7254.83</text>
<rect x="1233.2" y="27.2" width="47.3" height="21.4" rx="3.5" fill="#fff" stroke="#e6e8f0" stroke-width="1.1"/>
<text x="1241.4" y="42.8" textLength="19.6" lengthAdjust="spacingAndGlyphs" style="color:#50545f;font-size:10.4px">AUD</text>
<text x="732.0" y="449.4" textLength="361.7" lengthAdjust="spacingAndGlyphs" style="font-size:20.5px;color:#111;stroke-width:0.6px">INDICE AUSTRALIAN ASX200 WEEKLY</text>
<rect x="1182.2" y="70.2" width="98.0" height="14.8" rx="1.5" fill="#e3effd"/>
<text x="1185.4" y="81.2" textLength="39.2" lengthAdjust="spacingAndGlyphs" style="color:#4a4e59">Massimo</text>
<text x="1237.7" y="81.2" textLength="36.9" lengthAdjust="spacingAndGlyphs" style="color:#4a4e59">7652.48</text>
<rect x="1177.0" y="85.1" width="103.2" height="14.3" rx="1.5" fill="#2f2ff2"/>
<text x="1180.5" y="95.8" textLength="44.1" lengthAdjust="spacingAndGlyphs" class="b w">BB:Upper</text>
<text x="1237.7" y="95.8" textLength="36.9" lengthAdjust="spacingAndGlyphs" class="b w">7650.64</text>
<rect x="1207.9" y="138.7" width="72.3" height="14.2" rx="1.5" fill="#f0364a"/>
<text x="1211.2" y="149.4" textLength="13.4" lengthAdjust="spacingAndGlyphs" class="b w">MA</text>
<text x="1237.7" y="149.4" textLength="36.9" lengthAdjust="spacingAndGlyphs" class="b w">7254.83</text>
<rect x="1182.0" y="152.9" width="98.2" height="16.3" rx="1.5" fill="#ffb700"/>
<text x="1186.4" y="164.7" textLength="38.2" lengthAdjust="spacingAndGlyphs" style="color:#2a2200">BB:Basis</text>
<text x="1237.7" y="164.7" textLength="36.9" lengthAdjust="spacingAndGlyphs" style="color:#2a2200">7159.80</text>
<rect x="1187.6" y="168.2" width="92.6" height="14.9" rx="1.5" fill="#2f9210"/>
<text x="1191.1" y="179.2" textLength="33.5" lengthAdjust="spacingAndGlyphs" class="b w">ASX200</text>
<text x="1237.7" y="179.2" textLength="36.9" lengthAdjust="spacingAndGlyphs" class="b w">7139.78</text>
<rect x="1177.0" y="245.7" width="103.2" height="14.3" rx="1.5" fill="#2f2ff2"/>
<text x="1180.5" y="256.4" textLength="44.1" lengthAdjust="spacingAndGlyphs" class="b w">BB:Lower</text>
<text x="1237.7" y="256.4" textLength="36.9" lengthAdjust="spacingAndGlyphs" class="b w">6668.96</text>
<rect x="1187.2" y="613.1" width="93.0" height="14.7" rx="1.5" fill="#e3effd"/>
<text x="1191.0" y="624.1" textLength="33.6" lengthAdjust="spacingAndGlyphs" style="color:#4a4e59">Minimo</text>
<text x="1237.7" y="624.1" textLength="36.9" lengthAdjust="spacingAndGlyphs" style="color:#4a4e59">4417.60</text>
<g transform="translate(9,661.2) scale(0.475)" fill="#1e222d"><path d="M14 22H7V11H0V4h14v18z"/><circle cx="20" cy="8" r="4"/><path d="M28 22h-8l7.5-18h8L28 22z"/></g>
<text x="30.5" y="673.0" textLength="61.0" lengthAdjust="spacingAndGlyphs" style="font-size:11.5px;color:#4a4e59;stroke-width:0">TradingView</text>
</svg></body></html>
